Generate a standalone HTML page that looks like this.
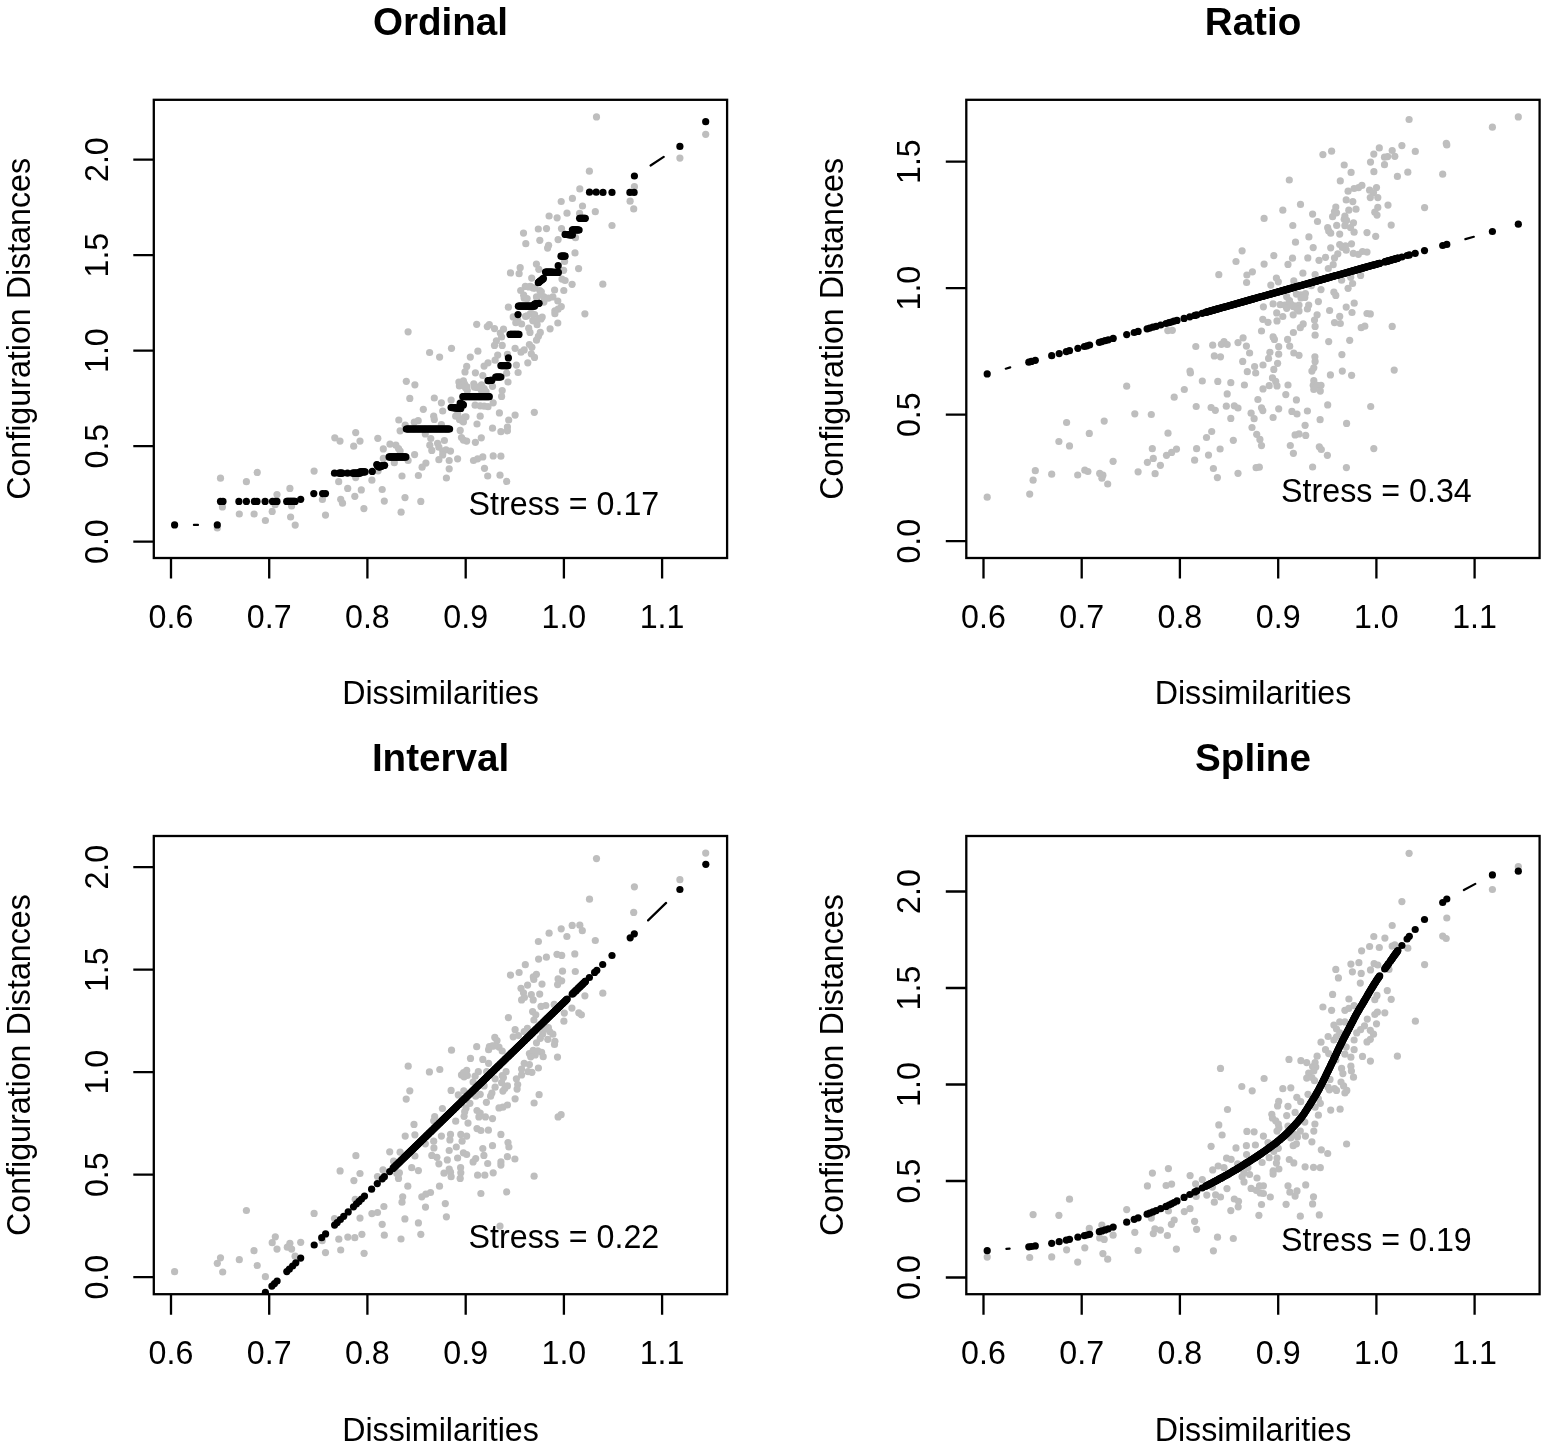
<!DOCTYPE html>
<html lang="en">
<head>
<meta charset="utf-8">
<title>Shepard diagrams</title>
<style>
html,body{margin:0;padding:0;background:#fff;}
body{width:1547px;height:1448px;overflow:hidden;}
svg{display:block;}
text{font-family:"Liberation Sans",sans-serif;fill:#000;}
.t{font-size:32.2px;}
.h{font-size:38.6px;font-weight:bold;}
.ax{stroke:#000;stroke-width:2.3;fill:none;stroke-linecap:butt;}
.g{fill:#bebebe;}
.k{fill:#000;}
.ln{stroke:#000;stroke-width:2.2;fill:none;stroke-linecap:round;}
</style>
</head>
<body>
<svg width="1547" height="1448" viewBox="0 0 1547 1448">
<rect x="0" y="0" width="1547" height="1448" fill="#fff"/>
<g transform="translate(0.0,0.0)">
<clipPath id="c0"><rect x="153.8" y="99.8" width="573.3" height="458.2"/></clipPath>
<text class="h" transform="translate(440.5,35.0) scale(1,1.02)" text-anchor="middle">Ordinal</text>
<g clip-path="url(#c0)">
<g class="g"><circle cx="579.8" cy="188.9" r="3.6"/><circle cx="572.4" cy="198.4" r="3.6"/><circle cx="561.2" cy="201.5" r="3.6"/><circle cx="582.5" cy="206.0" r="3.6"/><circle cx="595.3" cy="211.7" r="3.6"/><circle cx="567.0" cy="213.2" r="3.6"/><circle cx="579.6" cy="213.4" r="3.6"/><circle cx="549.1" cy="216.0" r="3.6"/><circle cx="557.1" cy="217.8" r="3.6"/><circle cx="538.3" cy="229.0" r="3.6"/><circle cx="546.5" cy="228.6" r="3.6"/><circle cx="561.5" cy="228.6" r="3.6"/><circle cx="523.5" cy="233.1" r="3.6"/><circle cx="575.5" cy="237.7" r="3.6"/><circle cx="558.1" cy="239.6" r="3.6"/><circle cx="539.8" cy="240.3" r="3.6"/><circle cx="525.8" cy="243.7" r="3.6"/><circle cx="548.6" cy="245.3" r="3.6"/><circle cx="547.6" cy="248.1" r="3.6"/><circle cx="575.0" cy="252.9" r="3.6"/><circle cx="564.6" cy="261.5" r="3.6"/><circle cx="536.4" cy="264.1" r="3.6"/><circle cx="538.8" cy="269.3" r="3.6"/><circle cx="520.2" cy="267.7" r="3.6"/><circle cx="563.6" cy="270.3" r="3.6"/><circle cx="578.6" cy="268.6" r="3.6"/><circle cx="510.5" cy="272.9" r="3.6"/><circle cx="519.1" cy="273.7" r="3.6"/><circle cx="531.7" cy="278.1" r="3.6"/><circle cx="562.0" cy="279.1" r="3.6"/><circle cx="565.1" cy="280.5" r="3.6"/><circle cx="572.1" cy="284.3" r="3.6"/><circle cx="525.3" cy="286.4" r="3.6"/><circle cx="520.7" cy="290.5" r="3.6"/><circle cx="528.9" cy="286.9" r="3.6"/><circle cx="533.1" cy="287.9" r="3.6"/><circle cx="554.6" cy="290.0" r="3.6"/><circle cx="563.8" cy="290.5" r="3.6"/><circle cx="539.8" cy="290.5" r="3.6"/><circle cx="540.8" cy="294.1" r="3.6"/><circle cx="596.5" cy="116.9" r="3.6"/><circle cx="705.7" cy="134.3" r="3.6"/><circle cx="679.9" cy="158.1" r="3.6"/><circle cx="589.4" cy="171.2" r="3.6"/><circle cx="634.4" cy="186.7" r="3.6"/><circle cx="630.1" cy="201.2" r="3.6"/><circle cx="633.7" cy="208.9" r="3.6"/><circle cx="612.0" cy="225.5" r="3.6"/><circle cx="602.8" cy="284.2" r="3.6"/><circle cx="543.9" cy="296.9" r="3.6"/><circle cx="548.4" cy="298.2" r="3.6"/><circle cx="552.9" cy="296.9" r="3.6"/><circle cx="543.9" cy="302.1" r="3.6"/><circle cx="557.8" cy="301.0" r="3.6"/><circle cx="561.3" cy="306.6" r="3.6"/><circle cx="558.1" cy="309.2" r="3.6"/><circle cx="554.9" cy="310.8" r="3.6"/><circle cx="554.9" cy="313.7" r="3.6"/><circle cx="584.9" cy="313.8" r="3.6"/><circle cx="557.8" cy="323.0" r="3.6"/><circle cx="550.1" cy="328.8" r="3.6"/><circle cx="408.1" cy="331.8" r="3.6"/><circle cx="429.6" cy="352.5" r="3.6"/><circle cx="439.6" cy="357.1" r="3.6"/><circle cx="451.5" cy="348.3" r="3.6"/><circle cx="406.3" cy="381.3" r="3.6"/><circle cx="414.9" cy="384.8" r="3.6"/><circle cx="476.7" cy="324.3" r="3.6"/><circle cx="477.9" cy="351.2" r="3.6"/><circle cx="470.3" cy="357.1" r="3.6"/><circle cx="489.3" cy="324.7" r="3.6"/><circle cx="487.3" cy="326.6" r="3.6"/><circle cx="494.5" cy="328.6" r="3.6"/><circle cx="503.5" cy="329.2" r="3.6"/><circle cx="500.3" cy="333.1" r="3.6"/><circle cx="501.6" cy="337.0" r="3.6"/><circle cx="496.4" cy="340.8" r="3.6"/><circle cx="494.5" cy="345.4" r="3.6"/><circle cx="502.2" cy="345.4" r="3.6"/><circle cx="497.7" cy="355.1" r="3.6"/><circle cx="495.1" cy="360.2" r="3.6"/><circle cx="488.0" cy="362.8" r="3.6"/><circle cx="484.1" cy="366.1" r="3.6"/><circle cx="466.7" cy="366.4" r="3.6"/><circle cx="465.0" cy="371.9" r="3.6"/><circle cx="475.4" cy="372.8" r="3.6"/><circle cx="482.8" cy="375.5" r="3.6"/><circle cx="458.9" cy="382.0" r="3.6"/><circle cx="463.4" cy="380.9" r="3.6"/><circle cx="462.1" cy="384.8" r="3.6"/><circle cx="465.4" cy="387.4" r="3.6"/><circle cx="467.3" cy="390.6" r="3.6"/><circle cx="473.8" cy="383.8" r="3.6"/><circle cx="477.0" cy="387.4" r="3.6"/><circle cx="481.5" cy="384.8" r="3.6"/><circle cx="484.1" cy="388.7" r="3.6"/><circle cx="486.1" cy="391.9" r="3.6"/><circle cx="492.5" cy="386.3" r="3.6"/><circle cx="502.2" cy="390.6" r="3.6"/><circle cx="508.0" cy="382.0" r="3.6"/><circle cx="506.7" cy="373.2" r="3.6"/><circle cx="518.1" cy="372.5" r="3.6"/><circle cx="516.4" cy="365.1" r="3.6"/><circle cx="527.8" cy="362.8" r="3.6"/><circle cx="507.4" cy="354.4" r="3.6"/><circle cx="515.1" cy="348.3" r="3.6"/><circle cx="521.0" cy="352.2" r="3.6"/><circle cx="524.2" cy="349.9" r="3.6"/><circle cx="529.4" cy="344.5" r="3.6"/><circle cx="531.9" cy="347.3" r="3.6"/><circle cx="531.3" cy="353.8" r="3.6"/><circle cx="534.5" cy="357.4" r="3.6"/><circle cx="508.4" cy="307.2" r="3.6"/><circle cx="513.2" cy="316.9" r="3.6"/><circle cx="515.8" cy="322.7" r="3.6"/><circle cx="521.6" cy="324.0" r="3.6"/><circle cx="525.5" cy="316.3" r="3.6"/><circle cx="531.9" cy="313.7" r="3.6"/><circle cx="533.2" cy="320.8" r="3.6"/><circle cx="537.1" cy="324.7" r="3.6"/><circle cx="541.0" cy="318.9" r="3.6"/><circle cx="528.7" cy="328.2" r="3.6"/><circle cx="530.0" cy="332.4" r="3.6"/><circle cx="540.3" cy="332.4" r="3.6"/><circle cx="538.4" cy="336.3" r="3.6"/><circle cx="536.5" cy="340.2" r="3.6"/><circle cx="536.5" cy="296.9" r="3.6"/><circle cx="524.2" cy="298.2" r="3.6"/><circle cx="423.3" cy="409.3" r="3.6"/><circle cx="442.7" cy="411.0" r="3.6"/><circle cx="433.7" cy="416.2" r="3.6"/><circle cx="434.3" cy="419.4" r="3.6"/><circle cx="398.8" cy="420.0" r="3.6"/><circle cx="418.2" cy="420.7" r="3.6"/><circle cx="414.3" cy="422.2" r="3.6"/><circle cx="405.2" cy="425.2" r="3.6"/><circle cx="400.1" cy="430.8" r="3.6"/><circle cx="441.4" cy="424.6" r="3.6"/><circle cx="425.3" cy="433.9" r="3.6"/><circle cx="430.8" cy="438.5" r="3.6"/><circle cx="377.8" cy="438.3" r="3.6"/><circle cx="390.0" cy="444.2" r="3.6"/><circle cx="395.9" cy="445.2" r="3.6"/><circle cx="398.5" cy="448.5" r="3.6"/><circle cx="383.3" cy="448.9" r="3.6"/><circle cx="400.1" cy="451.1" r="3.6"/><circle cx="429.8" cy="445.2" r="3.6"/><circle cx="431.8" cy="450.4" r="3.6"/><circle cx="437.6" cy="443.3" r="3.6"/><circle cx="438.9" cy="447.2" r="3.6"/><circle cx="444.4" cy="440.5" r="3.6"/><circle cx="442.7" cy="451.1" r="3.6"/><circle cx="446.0" cy="449.8" r="3.6"/><circle cx="450.5" cy="451.1" r="3.6"/><circle cx="442.7" cy="454.9" r="3.6"/><circle cx="414.6" cy="454.6" r="3.6"/><circle cx="383.3" cy="458.4" r="3.6"/><circle cx="394.3" cy="462.7" r="3.6"/><circle cx="408.1" cy="460.5" r="3.6"/><circle cx="438.9" cy="459.7" r="3.6"/><circle cx="449.2" cy="460.5" r="3.6"/><circle cx="457.6" cy="458.8" r="3.6"/><circle cx="425.9" cy="463.1" r="3.6"/><circle cx="422.1" cy="467.2" r="3.6"/><circle cx="449.2" cy="468.8" r="3.6"/><circle cx="378.1" cy="470.8" r="3.6"/><circle cx="402.0" cy="476.0" r="3.6"/><circle cx="418.4" cy="475.5" r="3.6"/><circle cx="446.4" cy="478.0" r="3.6"/><circle cx="371.9" cy="480.2" r="3.6"/><circle cx="382.2" cy="489.5" r="3.6"/><circle cx="405.0" cy="497.6" r="3.6"/><circle cx="384.3" cy="501.1" r="3.6"/><circle cx="420.8" cy="501.4" r="3.6"/><circle cx="363.9" cy="508.6" r="3.6"/><circle cx="401.1" cy="512.2" r="3.6"/><circle cx="475.1" cy="405.2" r="3.6"/><circle cx="480.2" cy="405.8" r="3.6"/><circle cx="484.1" cy="406.2" r="3.6"/><circle cx="488.0" cy="406.7" r="3.6"/><circle cx="499.4" cy="412.9" r="3.6"/><circle cx="534.3" cy="412.3" r="3.6"/><circle cx="515.1" cy="415.1" r="3.6"/><circle cx="480.2" cy="416.2" r="3.6"/><circle cx="455.7" cy="416.2" r="3.6"/><circle cx="459.5" cy="419.4" r="3.6"/><circle cx="463.4" cy="422.0" r="3.6"/><circle cx="466.0" cy="416.8" r="3.6"/><circle cx="508.7" cy="420.0" r="3.6"/><circle cx="477.0" cy="424.0" r="3.6"/><circle cx="507.4" cy="427.1" r="3.6"/><circle cx="492.5" cy="428.2" r="3.6"/><circle cx="500.9" cy="431.7" r="3.6"/><circle cx="507.4" cy="430.8" r="3.6"/><circle cx="460.2" cy="430.4" r="3.6"/><circle cx="461.5" cy="437.5" r="3.6"/><circle cx="463.4" cy="440.1" r="3.6"/><circle cx="466.7" cy="441.1" r="3.6"/><circle cx="481.3" cy="437.8" r="3.6"/><circle cx="475.4" cy="442.3" r="3.6"/><circle cx="493.2" cy="455.9" r="3.6"/><circle cx="500.9" cy="456.2" r="3.6"/><circle cx="482.8" cy="456.9" r="3.6"/><circle cx="477.6" cy="458.8" r="3.6"/><circle cx="473.5" cy="460.5" r="3.6"/><circle cx="484.5" cy="468.3" r="3.6"/><circle cx="487.7" cy="476.0" r="3.6"/><circle cx="500.0" cy="475.2" r="3.6"/><circle cx="506.7" cy="481.4" r="3.6"/><circle cx="220.5" cy="478.2" r="3.6"/><circle cx="222.4" cy="507.0" r="3.6"/><circle cx="217.3" cy="528.0" r="3.6"/><circle cx="246.4" cy="481.7" r="3.6"/><circle cx="257.2" cy="472.4" r="3.6"/><circle cx="239.3" cy="514.0" r="3.6"/><circle cx="254.1" cy="514.0" r="3.6"/><circle cx="265.4" cy="520.5" r="3.6"/><circle cx="272.2" cy="511.4" r="3.6"/><circle cx="277.0" cy="494.6" r="3.6"/><circle cx="275.1" cy="504.7" r="3.6"/><circle cx="289.9" cy="488.4" r="3.6"/><circle cx="291.6" cy="506.0" r="3.6"/><circle cx="290.6" cy="517.0" r="3.6"/><circle cx="295.2" cy="525.1" r="3.6"/><circle cx="314.1" cy="471.1" r="3.6"/><circle cx="322.4" cy="499.5" r="3.6"/><circle cx="325.5" cy="515.1" r="3.6"/><circle cx="334.8" cy="437.8" r="3.6"/><circle cx="340.0" cy="441.1" r="3.6"/><circle cx="355.7" cy="432.6" r="3.6"/><circle cx="353.7" cy="446.2" r="3.6"/><circle cx="338.7" cy="481.7" r="3.6"/><circle cx="347.7" cy="488.4" r="3.6"/><circle cx="355.7" cy="477.6" r="3.6"/><circle cx="340.7" cy="499.3" r="3.6"/><circle cx="342.5" cy="503.2" r="3.6"/><circle cx="354.8" cy="496.3" r="3.6"/><circle cx="409.8" cy="398.4" r="3.6"/><circle cx="434.3" cy="398.0" r="3.6"/><circle cx="451.1" cy="400.1" r="3.6"/><circle cx="501.6" cy="396.4" r="3.6"/><circle cx="441.4" cy="402.8" r="3.6"/><circle cx="360.0" cy="441.1" r="3.6"/><circle cx="361.3" cy="489.9" r="3.6"/><circle cx="493.2" cy="402.8" r="3.6"/><circle cx="530.4" cy="286.4" r="3.6"/><circle cx="534.6" cy="288.1" r="3.6"/><circle cx="541.3" cy="291.8" r="3.6"/><circle cx="523.7" cy="295.2" r="3.6"/><circle cx="527.1" cy="298.6" r="3.6"/><circle cx="537.1" cy="297.7" r="3.6"/><circle cx="527.1" cy="315.8" r="3.6"/><circle cx="530.4" cy="313.7" r="3.6"/><circle cx="534.6" cy="314.5" r="3.6"/><circle cx="517.8" cy="320.4" r="3.6"/><circle cx="532.9" cy="320.4" r="3.6"/><circle cx="538.8" cy="318.7" r="3.6"/><circle cx="542.2" cy="317.1" r="3.6"/><circle cx="459.4" cy="386.0" r="3.6"/><circle cx="464.5" cy="383.9" r="3.6"/><circle cx="467.0" cy="386.8" r="3.6"/><circle cx="478.7" cy="387.2" r="3.6"/><circle cx="481.3" cy="390.2" r="3.6"/><circle cx="485.0" cy="391.0" r="3.6"/><circle cx="474.5" cy="387.2" r="3.6"/><circle cx="457.7" cy="414.1" r="3.6"/><circle cx="464.5" cy="417.1" r="3.6"/><circle cx="461.9" cy="420.4" r="3.6"/></g>
<path class="ln" d="M193.9 524.9L198.0 524.9M650.6 165.5L663.7 156.9"/>
<g class="k"><circle cx="589.5" cy="192.2" r="3.6"/><circle cx="596.2" cy="192.2" r="3.6"/><circle cx="558.2" cy="265.7" r="3.6"/><circle cx="579.6" cy="218.3" r="3.6"/><circle cx="580.4" cy="218.3" r="3.6"/><circle cx="581.3" cy="218.3" r="3.6"/><circle cx="582.1" cy="218.3" r="3.6"/><circle cx="582.9" cy="218.3" r="3.6"/><circle cx="583.7" cy="218.3" r="3.6"/><circle cx="584.5" cy="218.3" r="3.6"/><circle cx="585.3" cy="218.3" r="3.6"/><circle cx="572.4" cy="229.8" r="3.6"/><circle cx="573.2" cy="229.8" r="3.6"/><circle cx="574.1" cy="229.8" r="3.6"/><circle cx="574.9" cy="229.9" r="3.6"/><circle cx="575.7" cy="229.9" r="3.6"/><circle cx="576.6" cy="229.9" r="3.6"/><circle cx="577.4" cy="229.9" r="3.6"/><circle cx="578.3" cy="230.0" r="3.6"/><circle cx="579.1" cy="230.0" r="3.6"/><circle cx="565.1" cy="234.4" r="3.6"/><circle cx="565.9" cy="234.5" r="3.6"/><circle cx="566.8" cy="234.5" r="3.6"/><circle cx="567.6" cy="234.6" r="3.6"/><circle cx="568.4" cy="234.7" r="3.6"/><circle cx="569.2" cy="234.7" r="3.6"/><circle cx="570.0" cy="234.8" r="3.6"/><circle cx="570.8" cy="234.8" r="3.6"/><circle cx="571.6" cy="234.9" r="3.6"/><circle cx="572.4" cy="235.0" r="3.6"/><circle cx="561.0" cy="256.2" r="3.6"/><circle cx="561.8" cy="256.2" r="3.6"/><circle cx="562.7" cy="256.2" r="3.6"/><circle cx="563.5" cy="256.2" r="3.6"/><circle cx="564.3" cy="256.2" r="3.6"/><circle cx="565.1" cy="256.2" r="3.6"/><circle cx="545.5" cy="272.1" r="3.6"/><circle cx="546.4" cy="272.1" r="3.6"/><circle cx="547.2" cy="272.1" r="3.6"/><circle cx="548.1" cy="272.1" r="3.6"/><circle cx="548.9" cy="272.2" r="3.6"/><circle cx="549.8" cy="272.2" r="3.6"/><circle cx="550.7" cy="272.2" r="3.6"/><circle cx="551.5" cy="272.2" r="3.6"/><circle cx="552.4" cy="272.2" r="3.6"/><circle cx="553.3" cy="272.3" r="3.6"/><circle cx="554.1" cy="272.3" r="3.6"/><circle cx="555.0" cy="272.3" r="3.6"/><circle cx="555.8" cy="272.3" r="3.6"/><circle cx="556.7" cy="272.4" r="3.6"/><circle cx="557.6" cy="272.4" r="3.6"/><circle cx="558.4" cy="272.4" r="3.6"/><circle cx="538.3" cy="282.7" r="3.6"/><circle cx="538.9" cy="282.2" r="3.6"/><circle cx="539.5" cy="281.6" r="3.6"/><circle cx="540.2" cy="281.1" r="3.6"/><circle cx="540.8" cy="280.6" r="3.6"/><circle cx="541.5" cy="280.0" r="3.6"/><circle cx="542.1" cy="279.5" r="3.6"/><circle cx="542.8" cy="278.9" r="3.6"/><circle cx="543.4" cy="278.4" r="3.6"/><circle cx="705.7" cy="121.7" r="3.6"/><circle cx="679.9" cy="146.4" r="3.6"/><circle cx="634.4" cy="176.0" r="3.6"/><circle cx="629.9" cy="192.4" r="3.6"/><circle cx="634.1" cy="192.4" r="3.6"/><circle cx="612.0" cy="192.4" r="3.6"/><circle cx="603.0" cy="192.4" r="3.6"/><circle cx="508.4" cy="357.9" r="3.6"/><circle cx="518.0" cy="314.6" r="3.6"/><circle cx="462.8" cy="396.7" r="3.6"/><circle cx="463.7" cy="396.7" r="3.6"/><circle cx="464.5" cy="396.7" r="3.6"/><circle cx="465.4" cy="396.7" r="3.6"/><circle cx="466.3" cy="396.7" r="3.6"/><circle cx="467.2" cy="396.7" r="3.6"/><circle cx="468.1" cy="396.7" r="3.6"/><circle cx="469.0" cy="396.7" r="3.6"/><circle cx="469.8" cy="396.7" r="3.6"/><circle cx="470.7" cy="396.7" r="3.6"/><circle cx="471.6" cy="396.7" r="3.6"/><circle cx="472.5" cy="396.7" r="3.6"/><circle cx="473.4" cy="396.7" r="3.6"/><circle cx="474.3" cy="396.7" r="3.6"/><circle cx="475.1" cy="396.7" r="3.6"/><circle cx="476.0" cy="396.7" r="3.6"/><circle cx="476.9" cy="396.7" r="3.6"/><circle cx="477.8" cy="396.7" r="3.6"/><circle cx="478.7" cy="396.7" r="3.6"/><circle cx="479.6" cy="396.7" r="3.6"/><circle cx="480.4" cy="396.7" r="3.6"/><circle cx="481.3" cy="396.7" r="3.6"/><circle cx="482.2" cy="396.7" r="3.6"/><circle cx="483.1" cy="396.7" r="3.6"/><circle cx="484.0" cy="396.7" r="3.6"/><circle cx="484.9" cy="396.7" r="3.6"/><circle cx="485.7" cy="396.7" r="3.6"/><circle cx="486.6" cy="396.7" r="3.6"/><circle cx="487.5" cy="396.7" r="3.6"/><circle cx="488.4" cy="396.7" r="3.6"/><circle cx="489.3" cy="396.7" r="3.6"/><circle cx="488.0" cy="380.7" r="3.6"/><circle cx="488.8" cy="380.6" r="3.6"/><circle cx="489.5" cy="380.5" r="3.6"/><circle cx="490.3" cy="380.4" r="3.6"/><circle cx="491.1" cy="380.3" r="3.6"/><circle cx="491.9" cy="380.3" r="3.6"/><circle cx="495.7" cy="377.0" r="3.6"/><circle cx="496.6" cy="377.0" r="3.6"/><circle cx="497.5" cy="377.0" r="3.6"/><circle cx="498.3" cy="377.0" r="3.6"/><circle cx="499.2" cy="377.0" r="3.6"/><circle cx="500.1" cy="377.0" r="3.6"/><circle cx="500.9" cy="377.0" r="3.6"/><circle cx="500.9" cy="365.7" r="3.6"/><circle cx="501.8" cy="365.7" r="3.6"/><circle cx="502.7" cy="365.7" r="3.6"/><circle cx="503.6" cy="365.7" r="3.6"/><circle cx="504.5" cy="365.7" r="3.6"/><circle cx="505.4" cy="365.7" r="3.6"/><circle cx="506.3" cy="365.7" r="3.6"/><circle cx="507.1" cy="365.7" r="3.6"/><circle cx="508.0" cy="365.7" r="3.6"/><circle cx="510.0" cy="334.4" r="3.6"/><circle cx="510.8" cy="334.4" r="3.6"/><circle cx="511.6" cy="334.4" r="3.6"/><circle cx="512.4" cy="334.4" r="3.6"/><circle cx="513.3" cy="334.4" r="3.6"/><circle cx="514.1" cy="334.4" r="3.6"/><circle cx="514.9" cy="334.4" r="3.6"/><circle cx="515.7" cy="334.4" r="3.6"/><circle cx="516.5" cy="334.4" r="3.6"/><circle cx="517.4" cy="334.4" r="3.6"/><circle cx="518.2" cy="334.4" r="3.6"/><circle cx="519.0" cy="334.4" r="3.6"/><circle cx="518.4" cy="306.2" r="3.6"/><circle cx="519.3" cy="306.2" r="3.6"/><circle cx="520.2" cy="306.2" r="3.6"/><circle cx="521.1" cy="306.2" r="3.6"/><circle cx="522.0" cy="306.2" r="3.6"/><circle cx="522.9" cy="306.2" r="3.6"/><circle cx="523.8" cy="306.2" r="3.6"/><circle cx="524.7" cy="306.2" r="3.6"/><circle cx="525.6" cy="306.2" r="3.6"/><circle cx="526.5" cy="306.2" r="3.6"/><circle cx="527.3" cy="306.2" r="3.6"/><circle cx="528.2" cy="306.2" r="3.6"/><circle cx="529.1" cy="306.2" r="3.6"/><circle cx="530.0" cy="306.2" r="3.6"/><circle cx="530.9" cy="306.2" r="3.6"/><circle cx="531.8" cy="306.2" r="3.6"/><circle cx="532.7" cy="306.2" r="3.6"/><circle cx="533.6" cy="306.2" r="3.6"/><circle cx="534.5" cy="306.2" r="3.6"/><circle cx="534.5" cy="304.0" r="3.6"/><circle cx="535.3" cy="303.9" r="3.6"/><circle cx="536.0" cy="303.8" r="3.6"/><circle cx="536.8" cy="303.7" r="3.6"/><circle cx="537.5" cy="303.6" r="3.6"/><circle cx="538.3" cy="303.5" r="3.6"/><circle cx="539.1" cy="303.3" r="3.6"/><circle cx="372.3" cy="471.4" r="3.6"/><circle cx="406.3" cy="429.0" r="3.6"/><circle cx="407.2" cy="429.0" r="3.6"/><circle cx="408.1" cy="429.0" r="3.6"/><circle cx="408.9" cy="429.0" r="3.6"/><circle cx="409.8" cy="429.0" r="3.6"/><circle cx="410.7" cy="429.0" r="3.6"/><circle cx="411.6" cy="429.0" r="3.6"/><circle cx="412.5" cy="429.0" r="3.6"/><circle cx="413.4" cy="429.0" r="3.6"/><circle cx="414.2" cy="429.0" r="3.6"/><circle cx="415.1" cy="429.0" r="3.6"/><circle cx="416.0" cy="429.0" r="3.6"/><circle cx="416.9" cy="429.0" r="3.6"/><circle cx="417.8" cy="429.0" r="3.6"/><circle cx="418.7" cy="429.0" r="3.6"/><circle cx="419.5" cy="429.0" r="3.6"/><circle cx="420.4" cy="429.0" r="3.6"/><circle cx="421.3" cy="429.0" r="3.6"/><circle cx="422.2" cy="429.0" r="3.6"/><circle cx="423.1" cy="429.0" r="3.6"/><circle cx="424.0" cy="429.0" r="3.6"/><circle cx="424.8" cy="429.0" r="3.6"/><circle cx="425.7" cy="429.0" r="3.6"/><circle cx="426.6" cy="429.0" r="3.6"/><circle cx="427.5" cy="429.0" r="3.6"/><circle cx="428.4" cy="429.0" r="3.6"/><circle cx="429.3" cy="429.0" r="3.6"/><circle cx="430.1" cy="429.0" r="3.6"/><circle cx="431.0" cy="429.0" r="3.6"/><circle cx="431.9" cy="429.0" r="3.6"/><circle cx="432.8" cy="429.0" r="3.6"/><circle cx="433.7" cy="429.0" r="3.6"/><circle cx="434.6" cy="429.0" r="3.6"/><circle cx="435.5" cy="429.0" r="3.6"/><circle cx="436.3" cy="429.0" r="3.6"/><circle cx="437.2" cy="429.0" r="3.6"/><circle cx="438.1" cy="429.0" r="3.6"/><circle cx="439.0" cy="429.0" r="3.6"/><circle cx="439.9" cy="429.0" r="3.6"/><circle cx="440.8" cy="429.0" r="3.6"/><circle cx="441.6" cy="429.0" r="3.6"/><circle cx="442.5" cy="429.0" r="3.6"/><circle cx="443.4" cy="429.0" r="3.6"/><circle cx="444.3" cy="429.0" r="3.6"/><circle cx="445.2" cy="429.0" r="3.6"/><circle cx="446.1" cy="429.0" r="3.6"/><circle cx="446.9" cy="429.0" r="3.6"/><circle cx="447.8" cy="429.0" r="3.6"/><circle cx="448.7" cy="429.0" r="3.6"/><circle cx="449.6" cy="429.0" r="3.6"/><circle cx="389.1" cy="456.9" r="3.6"/><circle cx="390.0" cy="456.9" r="3.6"/><circle cx="390.9" cy="456.9" r="3.6"/><circle cx="391.7" cy="456.9" r="3.6"/><circle cx="392.6" cy="456.9" r="3.6"/><circle cx="393.5" cy="456.9" r="3.6"/><circle cx="394.4" cy="456.9" r="3.6"/><circle cx="395.3" cy="456.9" r="3.6"/><circle cx="396.2" cy="456.9" r="3.6"/><circle cx="397.0" cy="456.9" r="3.6"/><circle cx="397.9" cy="456.9" r="3.6"/><circle cx="398.8" cy="456.9" r="3.6"/><circle cx="399.7" cy="456.9" r="3.6"/><circle cx="400.6" cy="456.9" r="3.6"/><circle cx="401.5" cy="456.9" r="3.6"/><circle cx="402.4" cy="456.9" r="3.6"/><circle cx="403.2" cy="456.9" r="3.6"/><circle cx="404.1" cy="456.9" r="3.6"/><circle cx="405.0" cy="456.9" r="3.6"/><circle cx="405.9" cy="456.9" r="3.6"/><circle cx="376.8" cy="464.6" r="3.6"/><circle cx="377.3" cy="465.2" r="3.6"/><circle cx="377.8" cy="465.7" r="3.6"/><circle cx="378.4" cy="466.2" r="3.6"/><circle cx="378.9" cy="466.7" r="3.6"/><circle cx="379.4" cy="467.2" r="3.6"/><circle cx="379.4" cy="466.6" r="3.6"/><circle cx="380.3" cy="466.4" r="3.6"/><circle cx="381.1" cy="466.1" r="3.6"/><circle cx="382.0" cy="465.9" r="3.6"/><circle cx="382.8" cy="465.7" r="3.6"/><circle cx="383.7" cy="465.5" r="3.6"/><circle cx="384.6" cy="465.3" r="3.6"/><circle cx="360.0" cy="471.8" r="3.6"/><circle cx="360.9" cy="471.8" r="3.6"/><circle cx="361.7" cy="471.8" r="3.6"/><circle cx="362.6" cy="471.8" r="3.6"/><circle cx="363.4" cy="471.8" r="3.6"/><circle cx="364.3" cy="471.8" r="3.6"/><circle cx="365.2" cy="471.8" r="3.6"/><circle cx="451.1" cy="407.5" r="3.6"/><circle cx="452.0" cy="407.6" r="3.6"/><circle cx="452.9" cy="407.7" r="3.6"/><circle cx="453.8" cy="407.7" r="3.6"/><circle cx="454.7" cy="407.8" r="3.6"/><circle cx="455.6" cy="407.9" r="3.6"/><circle cx="456.4" cy="408.0" r="3.6"/><circle cx="457.3" cy="408.1" r="3.6"/><circle cx="458.2" cy="408.2" r="3.6"/><circle cx="459.1" cy="408.2" r="3.6"/><circle cx="460.0" cy="408.3" r="3.6"/><circle cx="460.8" cy="408.4" r="3.6"/><circle cx="460.2" cy="403.2" r="3.6"/><circle cx="460.8" cy="403.6" r="3.6"/><circle cx="461.5" cy="403.9" r="3.6"/><circle cx="462.1" cy="404.2" r="3.6"/><circle cx="462.8" cy="404.6" r="3.6"/><circle cx="463.4" cy="404.9" r="3.6"/><circle cx="334.5" cy="473.2" r="3.6"/><circle cx="347.5" cy="473.2" r="3.6"/><circle cx="174.6" cy="524.9" r="3.6"/><circle cx="217.3" cy="524.9" r="3.6"/><circle cx="220.5" cy="501.4" r="3.6"/><circle cx="223.0" cy="501.4" r="3.6"/><circle cx="238.9" cy="501.4" r="3.6"/><circle cx="246.4" cy="501.4" r="3.6"/><circle cx="254.4" cy="501.4" r="3.6"/><circle cx="257.0" cy="501.4" r="3.6"/><circle cx="265.1" cy="501.4" r="3.6"/><circle cx="272.5" cy="501.4" r="3.6"/><circle cx="275.1" cy="501.4" r="3.6"/><circle cx="277.0" cy="501.4" r="3.6"/><circle cx="300.7" cy="499.3" r="3.6"/><circle cx="313.8" cy="493.6" r="3.6"/><circle cx="322.6" cy="493.6" r="3.6"/><circle cx="325.5" cy="493.6" r="3.6"/><circle cx="286.7" cy="501.4" r="3.6"/><circle cx="287.5" cy="501.4" r="3.6"/><circle cx="288.4" cy="501.4" r="3.6"/><circle cx="289.2" cy="501.4" r="3.6"/><circle cx="290.1" cy="501.4" r="3.6"/><circle cx="290.9" cy="501.4" r="3.6"/><circle cx="291.7" cy="501.4" r="3.6"/><circle cx="292.6" cy="501.4" r="3.6"/><circle cx="293.4" cy="501.4" r="3.6"/><circle cx="294.3" cy="501.4" r="3.6"/><circle cx="295.1" cy="501.4" r="3.6"/><circle cx="339.1" cy="473.2" r="3.6"/><circle cx="339.9" cy="473.2" r="3.6"/><circle cx="340.7" cy="473.2" r="3.6"/><circle cx="341.5" cy="473.2" r="3.6"/><circle cx="342.3" cy="473.2" r="3.6"/><circle cx="352.6" cy="473.2" r="3.6"/><circle cx="353.4" cy="473.2" r="3.6"/><circle cx="354.3" cy="473.2" r="3.6"/><circle cx="355.1" cy="473.2" r="3.6"/><circle cx="355.9" cy="473.2" r="3.6"/><circle cx="356.7" cy="473.2" r="3.6"/><circle cx="357.5" cy="473.2" r="3.6"/><circle cx="358.4" cy="473.2" r="3.6"/><circle cx="359.2" cy="473.2" r="3.6"/><circle cx="360.0" cy="473.2" r="3.6"/></g>
</g>
<text class="t" transform="translate(563.9,515.1) scale(1,1.06)" text-anchor="middle">Stress = 0.17</text>
<rect class="ax" x="153.8" y="99.8" width="573.3" height="458.2"/>
<path class="ax" d="M171.0 558.0v20.5M269.2 558.0v20.5M367.4 558.0v20.5M465.7 558.0v20.5M563.9 558.0v20.5M662.1 558.0v20.5"/>
<text class="t" transform="translate(171.0,628.0) scale(1,1.06)" text-anchor="middle">0.6</text>
<text class="t" transform="translate(269.2,628.0) scale(1,1.06)" text-anchor="middle">0.7</text>
<text class="t" transform="translate(367.4,628.0) scale(1,1.06)" text-anchor="middle">0.8</text>
<text class="t" transform="translate(465.7,628.0) scale(1,1.06)" text-anchor="middle">0.9</text>
<text class="t" transform="translate(563.9,628.0) scale(1,1.06)" text-anchor="middle">1.0</text>
<text class="t" transform="translate(662.1,628.0) scale(1,1.06)" text-anchor="middle">1.1</text>
<text class="t" transform="translate(440.5,704.3) scale(1,1.04)" text-anchor="middle">Dissimilarities</text>
<path class="ax" d="M153.8 541.6h-20.5M153.8 446.1h-20.5M153.8 350.6h-20.5M153.8 255.1h-20.5M153.8 159.6h-20.5"/>
<text class="t" transform="translate(107.6,541.6) rotate(-90) scale(1,1.06)" text-anchor="middle">0.0</text>
<text class="t" transform="translate(107.6,446.1) rotate(-90) scale(1,1.06)" text-anchor="middle">0.5</text>
<text class="t" transform="translate(107.6,350.6) rotate(-90) scale(1,1.06)" text-anchor="middle">1.0</text>
<text class="t" transform="translate(107.6,255.1) rotate(-90) scale(1,1.06)" text-anchor="middle">1.5</text>
<text class="t" transform="translate(107.6,159.6) rotate(-90) scale(1,1.06)" text-anchor="middle">2.0</text>
<text class="t" transform="translate(30.0,328.9) rotate(-90) scale(1,1.04)" text-anchor="middle">Configuration Distances</text>
</g>
<g transform="translate(812.5,0.0)">
<clipPath id="c1"><rect x="153.8" y="99.8" width="573.3" height="458.2"/></clipPath>
<text class="h" transform="translate(440.5,35.0) scale(1,1.02)" text-anchor="middle">Ratio</text>
<g clip-path="url(#c1)">
<g class="g"><circle cx="429.6" cy="250.8" r="3.6"/><circle cx="461.3" cy="255.6" r="3.6"/><circle cx="423.5" cy="261.5" r="3.6"/><circle cx="451.6" cy="264.1" r="3.6"/><circle cx="480.0" cy="258.2" r="3.6"/><circle cx="475.5" cy="264.4" r="3.6"/><circle cx="495.3" cy="257.9" r="3.6"/><circle cx="506.5" cy="260.3" r="3.6"/><circle cx="513.0" cy="257.3" r="3.6"/><circle cx="525.3" cy="253.8" r="3.6"/><circle cx="522.0" cy="257.9" r="3.6"/><circle cx="520.7" cy="264.7" r="3.6"/><circle cx="515.8" cy="268.5" r="3.6"/><circle cx="533.7" cy="250.2" r="3.6"/><circle cx="540.8" cy="253.4" r="3.6"/><circle cx="406.3" cy="274.7" r="3.6"/><circle cx="434.4" cy="275.0" r="3.6"/><circle cx="439.9" cy="271.8" r="3.6"/><circle cx="434.1" cy="282.5" r="3.6"/><circle cx="463.9" cy="278.0" r="3.6"/><circle cx="465.8" cy="281.8" r="3.6"/><circle cx="458.3" cy="285.1" r="3.6"/><circle cx="490.4" cy="273.2" r="3.6"/><circle cx="502.6" cy="274.5" r="3.6"/><circle cx="481.3" cy="280.9" r="3.6"/><circle cx="508.5" cy="289.6" r="3.6"/><circle cx="529.1" cy="280.2" r="3.6"/><circle cx="538.2" cy="277.3" r="3.6"/><circle cx="540.1" cy="283.5" r="3.6"/><circle cx="535.6" cy="288.3" r="3.6"/><circle cx="521.4" cy="292.2" r="3.6"/><circle cx="523.3" cy="295.4" r="3.6"/><circle cx="498.8" cy="285.7" r="3.6"/><circle cx="483.9" cy="294.1" r="3.6"/><circle cx="488.4" cy="294.8" r="3.6"/><circle cx="492.9" cy="293.5" r="3.6"/><circle cx="492.3" cy="297.4" r="3.6"/><circle cx="474.2" cy="296.7" r="3.6"/><circle cx="476.8" cy="300.6" r="3.6"/><circle cx="460.6" cy="303.8" r="3.6"/><circle cx="467.7" cy="304.7" r="3.6"/><circle cx="450.9" cy="306.8" r="3.6"/><circle cx="472.3" cy="305.1" r="3.6"/><circle cx="478.1" cy="303.8" r="3.6"/><circle cx="482.0" cy="305.8" r="3.6"/><circle cx="474.2" cy="308.3" r="3.6"/><circle cx="486.5" cy="305.1" r="3.6"/><circle cx="484.5" cy="309.0" r="3.6"/><circle cx="486.5" cy="310.9" r="3.6"/><circle cx="496.2" cy="305.1" r="3.6"/><circle cx="494.9" cy="309.0" r="3.6"/><circle cx="505.9" cy="301.6" r="3.6"/><circle cx="480.7" cy="314.8" r="3.6"/><circle cx="464.2" cy="312.9" r="3.6"/><circle cx="470.3" cy="316.5" r="3.6"/><circle cx="464.5" cy="320.9" r="3.6"/><circle cx="450.3" cy="319.3" r="3.6"/><circle cx="455.5" cy="322.3" r="3.6"/><circle cx="504.6" cy="314.8" r="3.6"/><circle cx="502.0" cy="320.0" r="3.6"/><circle cx="502.6" cy="326.4" r="3.6"/><circle cx="517.1" cy="310.5" r="3.6"/><circle cx="533.7" cy="307.1" r="3.6"/><circle cx="541.7" cy="303.2" r="3.6"/><circle cx="539.5" cy="312.5" r="3.6"/><circle cx="527.2" cy="316.4" r="3.6"/><circle cx="522.0" cy="322.6" r="3.6"/><circle cx="527.8" cy="323.5" r="3.6"/><circle cx="490.7" cy="323.9" r="3.6"/><circle cx="487.8" cy="327.7" r="3.6"/><circle cx="480.9" cy="332.5" r="3.6"/><circle cx="449.0" cy="331.0" r="3.6"/><circle cx="355.3" cy="330.6" r="3.6"/><circle cx="359.8" cy="330.3" r="3.6"/><circle cx="430.6" cy="337.8" r="3.6"/><circle cx="425.5" cy="342.6" r="3.6"/><circle cx="411.5" cy="341.7" r="3.6"/><circle cx="408.9" cy="344.3" r="3.6"/><circle cx="414.7" cy="344.5" r="3.6"/><circle cx="400.2" cy="345.2" r="3.6"/><circle cx="383.3" cy="346.5" r="3.6"/><circle cx="433.9" cy="346.1" r="3.6"/><circle cx="437.1" cy="353.0" r="3.6"/><circle cx="401.8" cy="355.9" r="3.6"/><circle cx="408.0" cy="356.8" r="3.6"/><circle cx="430.2" cy="361.4" r="3.6"/><circle cx="460.6" cy="336.8" r="3.6"/><circle cx="461.9" cy="339.4" r="3.6"/><circle cx="475.1" cy="339.4" r="3.6"/><circle cx="477.2" cy="346.2" r="3.6"/><circle cx="466.2" cy="346.7" r="3.6"/><circle cx="457.4" cy="352.3" r="3.6"/><circle cx="466.2" cy="354.2" r="3.6"/><circle cx="456.1" cy="358.4" r="3.6"/><circle cx="481.3" cy="353.0" r="3.6"/><circle cx="486.5" cy="355.3" r="3.6"/><circle cx="502.6" cy="335.2" r="3.6"/><circle cx="516.2" cy="341.6" r="3.6"/><circle cx="537.2" cy="340.3" r="3.6"/><circle cx="529.4" cy="354.6" r="3.6"/><circle cx="502.4" cy="356.8" r="3.6"/><circle cx="502.6" cy="361.4" r="3.6"/><circle cx="501.3" cy="367.8" r="3.6"/><circle cx="499.4" cy="371.1" r="3.6"/><circle cx="465.1" cy="363.3" r="3.6"/><circle cx="450.5" cy="365.0" r="3.6"/><circle cx="461.3" cy="369.4" r="3.6"/><circle cx="442.1" cy="366.5" r="3.6"/><circle cx="443.2" cy="373.0" r="3.6"/><circle cx="434.8" cy="371.7" r="3.6"/><circle cx="377.5" cy="371.1" r="3.6"/><circle cx="377.9" cy="373.0" r="3.6"/><circle cx="517.9" cy="374.9" r="3.6"/><circle cx="529.8" cy="371.1" r="3.6"/><circle cx="539.1" cy="375.3" r="3.6"/><circle cx="389.8" cy="381.0" r="3.6"/><circle cx="405.3" cy="381.4" r="3.6"/><circle cx="418.3" cy="382.7" r="3.6"/><circle cx="431.9" cy="385.0" r="3.6"/><circle cx="460.0" cy="377.9" r="3.6"/><circle cx="463.2" cy="381.4" r="3.6"/><circle cx="464.5" cy="385.9" r="3.6"/><circle cx="456.7" cy="385.7" r="3.6"/><circle cx="450.5" cy="388.9" r="3.6"/><circle cx="475.5" cy="385.0" r="3.6"/><circle cx="501.3" cy="380.7" r="3.6"/><circle cx="500.7" cy="385.3" r="3.6"/><circle cx="504.6" cy="385.3" r="3.6"/><circle cx="508.5" cy="385.3" r="3.6"/><circle cx="501.3" cy="389.5" r="3.6"/><circle cx="507.8" cy="391.1" r="3.6"/><circle cx="371.8" cy="389.5" r="3.6"/><circle cx="414.7" cy="393.9" r="3.6"/><circle cx="473.3" cy="394.6" r="3.6"/><circle cx="361.7" cy="397.2" r="3.6"/><circle cx="445.4" cy="399.5" r="3.6"/><circle cx="483.9" cy="399.9" r="3.6"/><circle cx="545.9" cy="254.3" r="3.6"/><circle cx="550.0" cy="251.5" r="3.6"/><circle cx="554.5" cy="252.1" r="3.6"/><circle cx="548.1" cy="275.4" r="3.6"/><circle cx="554.5" cy="313.5" r="3.6"/><circle cx="557.8" cy="313.9" r="3.6"/><circle cx="548.7" cy="327.7" r="3.6"/><circle cx="552.3" cy="326.2" r="3.6"/><circle cx="579.7" cy="326.4" r="3.6"/><circle cx="581.7" cy="370.1" r="3.6"/><circle cx="596.6" cy="119.5" r="3.6"/><circle cx="705.8" cy="116.9" r="3.6"/><circle cx="679.9" cy="127.2" r="3.6"/><circle cx="633.8" cy="143.4" r="3.6"/><circle cx="634.3" cy="144.9" r="3.6"/><circle cx="589.4" cy="145.6" r="3.6"/><circle cx="566.8" cy="147.9" r="3.6"/><circle cx="579.7" cy="150.5" r="3.6"/><circle cx="602.8" cy="151.4" r="3.6"/><circle cx="561.3" cy="154.1" r="3.6"/><circle cx="582.3" cy="156.3" r="3.6"/><circle cx="572.0" cy="157.2" r="3.6"/><circle cx="575.2" cy="156.6" r="3.6"/><circle cx="558.0" cy="162.1" r="3.6"/><circle cx="572.0" cy="164.7" r="3.6"/><circle cx="538.6" cy="172.4" r="3.6"/><circle cx="561.4" cy="171.7" r="3.6"/><circle cx="595.3" cy="172.2" r="3.6"/><circle cx="630.2" cy="174.2" r="3.6"/><circle cx="584.9" cy="176.4" r="3.6"/><circle cx="549.4" cy="185.4" r="3.6"/><circle cx="546.1" cy="187.6" r="3.6"/><circle cx="541.6" cy="188.5" r="3.6"/><circle cx="564.0" cy="187.6" r="3.6"/><circle cx="557.1" cy="190.2" r="3.6"/><circle cx="561.0" cy="192.8" r="3.6"/><circle cx="557.8" cy="197.6" r="3.6"/><circle cx="565.3" cy="197.6" r="3.6"/><circle cx="540.3" cy="201.6" r="3.6"/><circle cx="575.5" cy="205.1" r="3.6"/><circle cx="612.1" cy="207.6" r="3.6"/><circle cx="565.3" cy="207.4" r="3.6"/><circle cx="543.5" cy="209.2" r="3.6"/><circle cx="562.3" cy="212.2" r="3.6"/><circle cx="564.5" cy="215.1" r="3.6"/><circle cx="541.0" cy="222.8" r="3.6"/><circle cx="578.7" cy="225.1" r="3.6"/><circle cx="541.6" cy="232.2" r="3.6"/><circle cx="554.5" cy="232.6" r="3.6"/><circle cx="563.2" cy="236.3" r="3.6"/><circle cx="539.0" cy="243.8" r="3.6"/><circle cx="519.1" cy="151.2" r="3.6"/><circle cx="510.4" cy="154.6" r="3.6"/><circle cx="531.7" cy="165.0" r="3.6"/><circle cx="476.8" cy="180.0" r="3.6"/><circle cx="527.8" cy="180.9" r="3.6"/><circle cx="535.6" cy="191.2" r="3.6"/><circle cx="533.7" cy="199.9" r="3.6"/><circle cx="488.0" cy="204.4" r="3.6"/><circle cx="523.3" cy="207.0" r="3.6"/><circle cx="470.3" cy="210.2" r="3.6"/><circle cx="522.0" cy="211.5" r="3.6"/><circle cx="524.0" cy="212.8" r="3.6"/><circle cx="520.1" cy="216.7" r="3.6"/><circle cx="536.3" cy="210.2" r="3.6"/><circle cx="500.1" cy="214.1" r="3.6"/><circle cx="451.6" cy="218.4" r="3.6"/><circle cx="532.4" cy="216.1" r="3.6"/><circle cx="531.7" cy="219.3" r="3.6"/><circle cx="505.0" cy="221.5" r="3.6"/><circle cx="480.3" cy="225.5" r="3.6"/><circle cx="524.2" cy="225.4" r="3.6"/><circle cx="532.4" cy="225.7" r="3.6"/><circle cx="515.2" cy="227.7" r="3.6"/><circle cx="516.2" cy="230.9" r="3.6"/><circle cx="518.2" cy="233.2" r="3.6"/><circle cx="527.2" cy="234.1" r="3.6"/><circle cx="496.4" cy="236.9" r="3.6"/><circle cx="483.0" cy="242.2" r="3.6"/><circle cx="527.2" cy="244.5" r="3.6"/><circle cx="533.0" cy="245.8" r="3.6"/><circle cx="314.2" cy="386.2" r="3.6"/><circle cx="383.7" cy="406.5" r="3.6"/><circle cx="398.6" cy="407.5" r="3.6"/><circle cx="402.8" cy="410.3" r="3.6"/><circle cx="413.8" cy="406.2" r="3.6"/><circle cx="421.8" cy="405.8" r="3.6"/><circle cx="425.5" cy="408.0" r="3.6"/><circle cx="449.0" cy="407.8" r="3.6"/><circle cx="450.3" cy="410.6" r="3.6"/><circle cx="466.2" cy="408.8" r="3.6"/><circle cx="515.2" cy="404.9" r="3.6"/><circle cx="479.4" cy="411.4" r="3.6"/><circle cx="484.5" cy="414.0" r="3.6"/><circle cx="494.9" cy="411.0" r="3.6"/><circle cx="438.6" cy="413.2" r="3.6"/><circle cx="441.6" cy="418.7" r="3.6"/><circle cx="418.3" cy="418.4" r="3.6"/><circle cx="460.6" cy="417.5" r="3.6"/><circle cx="507.6" cy="419.7" r="3.6"/><circle cx="534.1" cy="423.4" r="3.6"/><circle cx="492.6" cy="425.3" r="3.6"/><circle cx="439.5" cy="427.5" r="3.6"/><circle cx="355.5" cy="433.2" r="3.6"/><circle cx="399.2" cy="431.5" r="3.6"/><circle cx="444.2" cy="434.3" r="3.6"/><circle cx="482.6" cy="434.9" r="3.6"/><circle cx="486.5" cy="433.9" r="3.6"/><circle cx="493.2" cy="435.4" r="3.6"/><circle cx="394.0" cy="437.5" r="3.6"/><circle cx="447.4" cy="439.4" r="3.6"/><circle cx="420.8" cy="440.3" r="3.6"/><circle cx="449.0" cy="445.6" r="3.6"/><circle cx="477.8" cy="445.5" r="3.6"/><circle cx="506.8" cy="446.8" r="3.6"/><circle cx="508.8" cy="449.5" r="3.6"/><circle cx="364.0" cy="449.1" r="3.6"/><circle cx="384.1" cy="448.7" r="3.6"/><circle cx="407.6" cy="449.0" r="3.6"/><circle cx="359.1" cy="452.4" r="3.6"/><circle cx="354.0" cy="455.3" r="3.6"/><circle cx="396.0" cy="455.1" r="3.6"/><circle cx="480.9" cy="453.3" r="3.6"/><circle cx="514.9" cy="455.3" r="3.6"/><circle cx="382.1" cy="460.2" r="3.6"/><circle cx="400.9" cy="468.5" r="3.6"/><circle cx="443.6" cy="467.7" r="3.6"/><circle cx="446.8" cy="467.2" r="3.6"/><circle cx="500.1" cy="467.0" r="3.6"/><circle cx="533.9" cy="467.6" r="3.6"/><circle cx="425.5" cy="473.3" r="3.6"/><circle cx="404.9" cy="477.6" r="3.6"/><circle cx="558.2" cy="406.5" r="3.6"/><circle cx="561.3" cy="448.6" r="3.6"/><circle cx="174.7" cy="497.2" r="3.6"/><circle cx="217.2" cy="494.1" r="3.6"/><circle cx="220.6" cy="480.2" r="3.6"/><circle cx="222.8" cy="470.7" r="3.6"/><circle cx="239.2" cy="474.2" r="3.6"/><circle cx="246.4" cy="441.5" r="3.6"/><circle cx="254.1" cy="422.5" r="3.6"/><circle cx="257.0" cy="445.9" r="3.6"/><circle cx="265.2" cy="475.0" r="3.6"/><circle cx="272.3" cy="470.2" r="3.6"/><circle cx="275.4" cy="471.5" r="3.6"/><circle cx="276.8" cy="433.4" r="3.6"/><circle cx="287.2" cy="473.4" r="3.6"/><circle cx="290.4" cy="475.2" r="3.6"/><circle cx="289.4" cy="478.2" r="3.6"/><circle cx="291.7" cy="421.1" r="3.6"/><circle cx="295.2" cy="484.0" r="3.6"/><circle cx="300.6" cy="461.3" r="3.6"/><circle cx="322.3" cy="413.8" r="3.6"/><circle cx="325.6" cy="471.8" r="3.6"/><circle cx="334.9" cy="462.3" r="3.6"/><circle cx="338.8" cy="414.5" r="3.6"/><circle cx="339.8" cy="448.7" r="3.6"/><circle cx="340.8" cy="458.4" r="3.6"/><circle cx="342.6" cy="473.7" r="3.6"/><circle cx="347.9" cy="465.3" r="3.6"/><circle cx="500.7" cy="247.6" r="3.6"/><circle cx="518.2" cy="247.8" r="3.6"/><circle cx="534.1" cy="220.4" r="3.6"/><circle cx="538.0" cy="227.6" r="3.6"/><circle cx="529.8" cy="247.5" r="3.6"/><circle cx="476.9" cy="300.9" r="3.6"/><circle cx="480.8" cy="306.7" r="3.6"/><circle cx="488.5" cy="298.0" r="3.6"/></g>
<path class="ln" d="M193.3 368.7L197.7 367.4M652.9 239.1L661.3 236.8"/>
<g class="k"><circle cx="174.7" cy="373.9" r="3.6"/><circle cx="216.3" cy="362.2" r="3.6"/><circle cx="218.9" cy="361.4" r="3.6"/><circle cx="222.8" cy="360.3" r="3.6"/><circle cx="239.2" cy="355.7" r="3.6"/><circle cx="246.7" cy="353.6" r="3.6"/><circle cx="253.8" cy="351.6" r="3.6"/><circle cx="257.0" cy="350.7" r="3.6"/><circle cx="265.4" cy="348.3" r="3.6"/><circle cx="271.9" cy="346.5" r="3.6"/><circle cx="274.5" cy="345.8" r="3.6"/><circle cx="277.1" cy="345.0" r="3.6"/><circle cx="286.8" cy="342.3" r="3.6"/><circle cx="289.4" cy="341.6" r="3.6"/><circle cx="292.6" cy="340.7" r="3.6"/><circle cx="295.8" cy="339.8" r="3.6"/><circle cx="300.7" cy="338.4" r="3.6"/><circle cx="314.2" cy="334.6" r="3.6"/><circle cx="321.7" cy="332.5" r="3.6"/><circle cx="325.6" cy="331.4" r="3.6"/><circle cx="334.6" cy="328.8" r="3.6"/><circle cx="337.2" cy="328.1" r="3.6"/><circle cx="340.4" cy="327.2" r="3.6"/><circle cx="343.7" cy="326.3" r="3.6"/><circle cx="348.2" cy="325.0" r="3.6"/><circle cx="353.5" cy="323.5" r="3.6"/><circle cx="356.5" cy="322.7" r="3.6"/><circle cx="359.0" cy="322.0" r="3.6"/><circle cx="361.5" cy="321.2" r="3.6"/><circle cx="364.5" cy="320.4" r="3.6"/><circle cx="371.6" cy="318.4" r="3.6"/><circle cx="377.3" cy="316.8" r="3.6"/><circle cx="382.3" cy="315.4" r="3.6"/><circle cx="384.4" cy="314.8" r="3.6"/><circle cx="389.7" cy="313.3" r="3.6"/><circle cx="589.4" cy="257.0" r="3.6"/><circle cx="594.6" cy="255.5" r="3.6"/><circle cx="596.8" cy="254.9" r="3.6"/><circle cx="602.7" cy="253.3" r="3.6"/><circle cx="612.0" cy="250.6" r="3.6"/><circle cx="630.2" cy="245.5" r="3.6"/><circle cx="634.3" cy="244.4" r="3.6"/><circle cx="679.9" cy="231.5" r="3.6"/><circle cx="705.8" cy="224.2" r="3.6"/><circle cx="393.0" cy="312.4" r="3.6"/><circle cx="393.9" cy="312.1" r="3.6"/><circle cx="394.7" cy="311.9" r="3.6"/><circle cx="395.6" cy="311.6" r="3.6"/><circle cx="396.5" cy="311.4" r="3.6"/><circle cx="397.3" cy="311.1" r="3.6"/><circle cx="398.2" cy="310.9" r="3.6"/><circle cx="399.1" cy="310.7" r="3.6"/><circle cx="399.9" cy="310.4" r="3.6"/><circle cx="400.8" cy="310.2" r="3.6"/><circle cx="401.7" cy="309.9" r="3.6"/><circle cx="402.5" cy="309.7" r="3.6"/><circle cx="403.4" cy="309.4" r="3.6"/><circle cx="404.3" cy="309.2" r="3.6"/><circle cx="405.1" cy="308.9" r="3.6"/><circle cx="406.0" cy="308.7" r="3.6"/><circle cx="406.9" cy="308.5" r="3.6"/><circle cx="407.7" cy="308.2" r="3.6"/><circle cx="408.6" cy="308.0" r="3.6"/><circle cx="409.5" cy="307.7" r="3.6"/><circle cx="410.3" cy="307.5" r="3.6"/><circle cx="411.2" cy="307.2" r="3.6"/><circle cx="412.1" cy="307.0" r="3.6"/><circle cx="412.9" cy="306.8" r="3.6"/><circle cx="413.8" cy="306.5" r="3.6"/><circle cx="414.7" cy="306.3" r="3.6"/><circle cx="415.5" cy="306.0" r="3.6"/><circle cx="416.4" cy="305.8" r="3.6"/><circle cx="417.3" cy="305.5" r="3.6"/><circle cx="418.1" cy="305.3" r="3.6"/><circle cx="419.0" cy="305.0" r="3.6"/><circle cx="419.9" cy="304.8" r="3.6"/><circle cx="420.7" cy="304.6" r="3.6"/><circle cx="421.6" cy="304.3" r="3.6"/><circle cx="422.5" cy="304.1" r="3.6"/><circle cx="423.3" cy="303.8" r="3.6"/><circle cx="424.2" cy="303.6" r="3.6"/><circle cx="425.1" cy="303.3" r="3.6"/><circle cx="425.9" cy="303.1" r="3.6"/><circle cx="426.8" cy="302.8" r="3.6"/><circle cx="427.6" cy="302.6" r="3.6"/><circle cx="428.5" cy="302.4" r="3.6"/><circle cx="429.4" cy="302.1" r="3.6"/><circle cx="430.2" cy="301.9" r="3.6"/><circle cx="431.1" cy="301.6" r="3.6"/><circle cx="432.0" cy="301.4" r="3.6"/><circle cx="432.8" cy="301.1" r="3.6"/><circle cx="433.7" cy="300.9" r="3.6"/><circle cx="434.6" cy="300.6" r="3.6"/><circle cx="435.4" cy="300.4" r="3.6"/><circle cx="436.3" cy="300.2" r="3.6"/><circle cx="437.2" cy="299.9" r="3.6"/><circle cx="438.0" cy="299.7" r="3.6"/><circle cx="438.9" cy="299.4" r="3.6"/><circle cx="439.8" cy="299.2" r="3.6"/><circle cx="440.6" cy="298.9" r="3.6"/><circle cx="441.5" cy="298.7" r="3.6"/><circle cx="442.4" cy="298.5" r="3.6"/><circle cx="443.2" cy="298.2" r="3.6"/><circle cx="444.1" cy="298.0" r="3.6"/><circle cx="445.0" cy="297.7" r="3.6"/><circle cx="445.8" cy="297.5" r="3.6"/><circle cx="446.7" cy="297.2" r="3.6"/><circle cx="447.6" cy="297.0" r="3.6"/><circle cx="448.4" cy="296.7" r="3.6"/><circle cx="449.3" cy="296.5" r="3.6"/><circle cx="450.2" cy="296.3" r="3.6"/><circle cx="451.0" cy="296.0" r="3.6"/><circle cx="451.9" cy="295.8" r="3.6"/><circle cx="452.8" cy="295.5" r="3.6"/><circle cx="453.6" cy="295.3" r="3.6"/><circle cx="454.5" cy="295.0" r="3.6"/><circle cx="455.4" cy="294.8" r="3.6"/><circle cx="456.2" cy="294.5" r="3.6"/><circle cx="457.1" cy="294.3" r="3.6"/><circle cx="458.0" cy="294.1" r="3.6"/><circle cx="458.8" cy="293.8" r="3.6"/><circle cx="459.7" cy="293.6" r="3.6"/><circle cx="460.6" cy="293.3" r="3.6"/><circle cx="461.4" cy="293.1" r="3.6"/><circle cx="462.3" cy="292.8" r="3.6"/><circle cx="463.2" cy="292.6" r="3.6"/><circle cx="464.0" cy="292.3" r="3.6"/><circle cx="464.9" cy="292.1" r="3.6"/><circle cx="465.8" cy="291.9" r="3.6"/><circle cx="466.6" cy="291.6" r="3.6"/><circle cx="467.5" cy="291.4" r="3.6"/><circle cx="468.4" cy="291.1" r="3.6"/><circle cx="469.2" cy="290.9" r="3.6"/><circle cx="470.1" cy="290.6" r="3.6"/><circle cx="471.0" cy="290.4" r="3.6"/><circle cx="471.8" cy="290.1" r="3.6"/><circle cx="472.7" cy="289.9" r="3.6"/><circle cx="473.6" cy="289.7" r="3.6"/><circle cx="474.4" cy="289.4" r="3.6"/><circle cx="475.3" cy="289.2" r="3.6"/><circle cx="476.2" cy="288.9" r="3.6"/><circle cx="477.0" cy="288.7" r="3.6"/><circle cx="477.9" cy="288.4" r="3.6"/><circle cx="478.8" cy="288.2" r="3.6"/><circle cx="479.6" cy="288.0" r="3.6"/><circle cx="480.5" cy="287.7" r="3.6"/><circle cx="481.4" cy="287.5" r="3.6"/><circle cx="482.2" cy="287.2" r="3.6"/><circle cx="483.1" cy="287.0" r="3.6"/><circle cx="484.0" cy="286.7" r="3.6"/><circle cx="484.8" cy="286.5" r="3.6"/><circle cx="485.7" cy="286.2" r="3.6"/><circle cx="486.6" cy="286.0" r="3.6"/><circle cx="487.4" cy="285.8" r="3.6"/><circle cx="488.3" cy="285.5" r="3.6"/><circle cx="489.2" cy="285.3" r="3.6"/><circle cx="490.0" cy="285.0" r="3.6"/><circle cx="490.9" cy="284.8" r="3.6"/><circle cx="491.8" cy="284.5" r="3.6"/><circle cx="492.6" cy="284.3" r="3.6"/><circle cx="493.5" cy="284.0" r="3.6"/><circle cx="494.4" cy="283.8" r="3.6"/><circle cx="495.2" cy="283.6" r="3.6"/><circle cx="496.1" cy="283.3" r="3.6"/><circle cx="496.9" cy="283.1" r="3.6"/><circle cx="497.8" cy="282.8" r="3.6"/><circle cx="498.7" cy="282.6" r="3.6"/><circle cx="499.5" cy="282.3" r="3.6"/><circle cx="500.4" cy="282.1" r="3.6"/><circle cx="501.3" cy="281.8" r="3.6"/><circle cx="502.1" cy="281.6" r="3.6"/><circle cx="503.0" cy="281.4" r="3.6"/><circle cx="503.9" cy="281.1" r="3.6"/><circle cx="504.7" cy="280.9" r="3.6"/><circle cx="505.6" cy="280.6" r="3.6"/><circle cx="506.5" cy="280.4" r="3.6"/><circle cx="507.3" cy="280.1" r="3.6"/><circle cx="508.2" cy="279.9" r="3.6"/><circle cx="509.1" cy="279.6" r="3.6"/><circle cx="509.9" cy="279.4" r="3.6"/><circle cx="510.8" cy="279.2" r="3.6"/><circle cx="511.7" cy="278.9" r="3.6"/><circle cx="512.5" cy="278.7" r="3.6"/><circle cx="513.4" cy="278.4" r="3.6"/><circle cx="514.3" cy="278.2" r="3.6"/><circle cx="515.1" cy="277.9" r="3.6"/><circle cx="516.0" cy="277.7" r="3.6"/><circle cx="516.9" cy="277.5" r="3.6"/><circle cx="517.7" cy="277.2" r="3.6"/><circle cx="518.6" cy="277.0" r="3.6"/><circle cx="519.5" cy="276.7" r="3.6"/><circle cx="520.3" cy="276.5" r="3.6"/><circle cx="521.2" cy="276.2" r="3.6"/><circle cx="522.1" cy="276.0" r="3.6"/><circle cx="522.9" cy="275.7" r="3.6"/><circle cx="523.8" cy="275.5" r="3.6"/><circle cx="524.7" cy="275.3" r="3.6"/><circle cx="525.5" cy="275.0" r="3.6"/><circle cx="526.4" cy="274.8" r="3.6"/><circle cx="527.3" cy="274.5" r="3.6"/><circle cx="528.1" cy="274.3" r="3.6"/><circle cx="529.0" cy="274.0" r="3.6"/><circle cx="529.9" cy="273.8" r="3.6"/><circle cx="530.7" cy="273.5" r="3.6"/><circle cx="531.6" cy="273.3" r="3.6"/><circle cx="532.5" cy="273.1" r="3.6"/><circle cx="533.3" cy="272.8" r="3.6"/><circle cx="534.2" cy="272.6" r="3.6"/><circle cx="535.1" cy="272.3" r="3.6"/><circle cx="535.9" cy="272.1" r="3.6"/><circle cx="536.8" cy="271.8" r="3.6"/><circle cx="537.7" cy="271.6" r="3.6"/><circle cx="538.5" cy="271.3" r="3.6"/><circle cx="539.4" cy="271.1" r="3.6"/><circle cx="540.3" cy="270.9" r="3.6"/><circle cx="541.1" cy="270.6" r="3.6"/><circle cx="542.0" cy="270.4" r="3.6"/><circle cx="542.9" cy="270.1" r="3.6"/><circle cx="543.7" cy="269.9" r="3.6"/><circle cx="544.6" cy="269.6" r="3.6"/><circle cx="545.5" cy="269.4" r="3.6"/><circle cx="546.3" cy="269.2" r="3.6"/><circle cx="547.2" cy="268.9" r="3.6"/><circle cx="548.1" cy="268.7" r="3.6"/><circle cx="548.9" cy="268.4" r="3.6"/><circle cx="549.8" cy="268.2" r="3.6"/><circle cx="550.7" cy="267.9" r="3.6"/><circle cx="551.5" cy="267.7" r="3.6"/><circle cx="552.4" cy="267.4" r="3.6"/><circle cx="553.3" cy="267.2" r="3.6"/><circle cx="554.1" cy="267.0" r="3.6"/><circle cx="555.0" cy="266.7" r="3.6"/><circle cx="555.9" cy="266.5" r="3.6"/><circle cx="556.7" cy="266.2" r="3.6"/><circle cx="557.6" cy="266.0" r="3.6"/><circle cx="558.5" cy="265.7" r="3.6"/><circle cx="559.3" cy="265.5" r="3.6"/><circle cx="560.2" cy="265.2" r="3.6"/><circle cx="561.1" cy="265.0" r="3.6"/><circle cx="561.9" cy="264.8" r="3.6"/><circle cx="562.8" cy="264.5" r="3.6"/><circle cx="563.7" cy="264.3" r="3.6"/><circle cx="564.5" cy="264.0" r="3.6"/><circle cx="565.4" cy="263.8" r="3.6"/><circle cx="566.2" cy="263.5" r="3.6"/><circle cx="567.1" cy="263.3" r="3.6"/><circle cx="567.2" cy="263.3" r="3.6"/><circle cx="572.2" cy="261.9" r="3.6"/><circle cx="573.1" cy="261.6" r="3.6"/><circle cx="573.9" cy="261.4" r="3.6"/><circle cx="574.8" cy="261.1" r="3.6"/><circle cx="575.7" cy="260.9" r="3.6"/><circle cx="576.1" cy="260.8" r="3.6"/><circle cx="577.6" cy="260.3" r="3.6"/><circle cx="578.5" cy="260.1" r="3.6"/><circle cx="579.3" cy="259.8" r="3.6"/><circle cx="580.2" cy="259.6" r="3.6"/><circle cx="581.1" cy="259.4" r="3.6"/><circle cx="581.9" cy="259.1" r="3.6"/><circle cx="582.8" cy="258.9" r="3.6"/><circle cx="583.7" cy="258.6" r="3.6"/><circle cx="584.5" cy="258.4" r="3.6"/><circle cx="585.4" cy="258.1" r="3.6"/><circle cx="585.4" cy="258.1" r="3.6"/></g>
</g>
<text class="t" transform="translate(563.9,502.3) scale(1,1.06)" text-anchor="middle">Stress = 0.34</text>
<rect class="ax" x="153.8" y="99.8" width="573.3" height="458.2"/>
<path class="ax" d="M171.0 558.0v20.5M269.2 558.0v20.5M367.4 558.0v20.5M465.7 558.0v20.5M563.9 558.0v20.5M662.1 558.0v20.5"/>
<text class="t" transform="translate(171.0,628.0) scale(1,1.06)" text-anchor="middle">0.6</text>
<text class="t" transform="translate(269.2,628.0) scale(1,1.06)" text-anchor="middle">0.7</text>
<text class="t" transform="translate(367.4,628.0) scale(1,1.06)" text-anchor="middle">0.8</text>
<text class="t" transform="translate(465.7,628.0) scale(1,1.06)" text-anchor="middle">0.9</text>
<text class="t" transform="translate(563.9,628.0) scale(1,1.06)" text-anchor="middle">1.0</text>
<text class="t" transform="translate(662.1,628.0) scale(1,1.06)" text-anchor="middle">1.1</text>
<text class="t" transform="translate(440.5,704.3) scale(1,1.04)" text-anchor="middle">Dissimilarities</text>
<path class="ax" d="M153.8 541.2h-20.5M153.8 414.7h-20.5M153.8 288.1h-20.5M153.8 161.6h-20.5"/>
<text class="t" transform="translate(107.6,541.2) rotate(-90) scale(1,1.06)" text-anchor="middle">0.0</text>
<text class="t" transform="translate(107.6,414.7) rotate(-90) scale(1,1.06)" text-anchor="middle">0.5</text>
<text class="t" transform="translate(107.6,288.1) rotate(-90) scale(1,1.06)" text-anchor="middle">1.0</text>
<text class="t" transform="translate(107.6,161.6) rotate(-90) scale(1,1.06)" text-anchor="middle">1.5</text>
<text class="t" transform="translate(30.0,328.9) rotate(-90) scale(1,1.04)" text-anchor="middle">Configuration Distances</text>
</g>
<g transform="translate(0.0,736.2)">
<clipPath id="c2"><rect x="153.8" y="99.8" width="573.3" height="458.2"/></clipPath>
<text class="h" transform="translate(440.5,35.0) scale(1,1.02)" text-anchor="middle">Interval</text>
<g clip-path="url(#c2)">
<g class="g"><circle cx="572.2" cy="189.2" r="3.6"/><circle cx="561.2" cy="192.6" r="3.6"/><circle cx="549.1" cy="197.0" r="3.6"/><circle cx="566.9" cy="200.3" r="3.6"/><circle cx="538.4" cy="205.3" r="3.6"/><circle cx="557.0" cy="218.1" r="3.6"/><circle cx="561.7" cy="219.2" r="3.6"/><circle cx="574.8" cy="217.7" r="3.6"/><circle cx="546.4" cy="221.0" r="3.6"/><circle cx="538.6" cy="222.9" r="3.6"/><circle cx="525.3" cy="228.5" r="3.6"/><circle cx="562.5" cy="235.0" r="3.6"/><circle cx="575.3" cy="235.3" r="3.6"/><circle cx="519.1" cy="236.3" r="3.6"/><circle cx="510.5" cy="238.9" r="3.6"/><circle cx="536.4" cy="238.1" r="3.6"/><circle cx="533.3" cy="240.7" r="3.6"/><circle cx="533.8" cy="243.3" r="3.6"/><circle cx="558.1" cy="242.7" r="3.6"/><circle cx="561.7" cy="244.6" r="3.6"/><circle cx="542.0" cy="247.9" r="3.6"/><circle cx="596.5" cy="122.4" r="3.6"/><circle cx="705.7" cy="116.9" r="3.6"/><circle cx="679.9" cy="143.5" r="3.6"/><circle cx="634.4" cy="150.6" r="3.6"/><circle cx="589.5" cy="163.0" r="3.6"/><circle cx="633.7" cy="176.2" r="3.6"/><circle cx="579.8" cy="189.0" r="3.6"/><circle cx="582.3" cy="194.5" r="3.6"/><circle cx="595.3" cy="204.3" r="3.6"/><circle cx="584.9" cy="259.6" r="3.6"/><circle cx="602.8" cy="257.0" r="3.6"/><circle cx="545.8" cy="269.3" r="3.6"/><circle cx="554.2" cy="268.2" r="3.6"/><circle cx="571.9" cy="271.9" r="3.6"/><circle cx="564.3" cy="276.9" r="3.6"/><circle cx="578.8" cy="276.6" r="3.6"/><circle cx="581.4" cy="278.6" r="3.6"/><circle cx="563.9" cy="285.0" r="3.6"/><circle cx="548.4" cy="291.5" r="3.6"/><circle cx="549.7" cy="295.4" r="3.6"/><circle cx="552.9" cy="298.0" r="3.6"/><circle cx="547.8" cy="303.1" r="3.6"/><circle cx="554.9" cy="305.1" r="3.6"/><circle cx="554.5" cy="308.3" r="3.6"/><circle cx="557.5" cy="320.9" r="3.6"/><circle cx="561.1" cy="378.5" r="3.6"/><circle cx="558.1" cy="380.7" r="3.6"/><circle cx="521.0" cy="252.1" r="3.6"/><circle cx="523.5" cy="256.6" r="3.6"/><circle cx="521.6" cy="263.7" r="3.6"/><circle cx="531.3" cy="258.5" r="3.6"/><circle cx="533.2" cy="263.7" r="3.6"/><circle cx="539.7" cy="257.9" r="3.6"/><circle cx="541.0" cy="270.2" r="3.6"/><circle cx="532.6" cy="275.4" r="3.6"/><circle cx="535.8" cy="278.6" r="3.6"/><circle cx="533.9" cy="283.8" r="3.6"/><circle cx="508.4" cy="281.4" r="3.6"/><circle cx="515.1" cy="293.5" r="3.6"/><circle cx="527.4" cy="292.2" r="3.6"/><circle cx="513.2" cy="300.6" r="3.6"/><circle cx="518.4" cy="299.3" r="3.6"/><circle cx="524.2" cy="295.4" r="3.6"/><circle cx="536.5" cy="306.6" r="3.6"/><circle cx="494.8" cy="301.2" r="3.6"/><circle cx="497.0" cy="304.4" r="3.6"/><circle cx="499.0" cy="310.9" r="3.6"/><circle cx="502.2" cy="314.8" r="3.6"/><circle cx="488.6" cy="313.5" r="3.6"/><circle cx="476.7" cy="310.5" r="3.6"/><circle cx="451.5" cy="314.0" r="3.6"/><circle cx="529.4" cy="317.4" r="3.6"/><circle cx="533.2" cy="314.1" r="3.6"/><circle cx="535.2" cy="318.7" r="3.6"/><circle cx="541.6" cy="316.1" r="3.6"/><circle cx="530.7" cy="320.6" r="3.6"/><circle cx="470.5" cy="322.2" r="3.6"/><circle cx="482.8" cy="323.2" r="3.6"/><circle cx="488.6" cy="327.1" r="3.6"/><circle cx="524.2" cy="327.1" r="3.6"/><circle cx="529.4" cy="328.4" r="3.6"/><circle cx="521.6" cy="332.9" r="3.6"/><circle cx="538.4" cy="331.8" r="3.6"/><circle cx="531.9" cy="336.1" r="3.6"/><circle cx="528.1" cy="335.5" r="3.6"/><circle cx="521.6" cy="338.7" r="3.6"/><circle cx="516.4" cy="342.6" r="3.6"/><circle cx="408.2" cy="330.0" r="3.6"/><circle cx="429.4" cy="335.7" r="3.6"/><circle cx="439.8" cy="333.3" r="3.6"/><circle cx="466.7" cy="334.2" r="3.6"/><circle cx="461.5" cy="338.7" r="3.6"/><circle cx="464.1" cy="340.6" r="3.6"/><circle cx="467.3" cy="339.3" r="3.6"/><circle cx="478.3" cy="335.5" r="3.6"/><circle cx="475.1" cy="340.0" r="3.6"/><circle cx="473.1" cy="345.8" r="3.6"/><circle cx="486.7" cy="335.5" r="3.6"/><circle cx="506.1" cy="335.5" r="3.6"/><circle cx="502.2" cy="339.3" r="3.6"/><circle cx="495.1" cy="342.6" r="3.6"/><circle cx="501.6" cy="346.5" r="3.6"/><circle cx="507.4" cy="349.7" r="3.6"/><circle cx="504.8" cy="352.3" r="3.6"/><circle cx="502.9" cy="354.9" r="3.6"/><circle cx="517.7" cy="348.4" r="3.6"/><circle cx="517.1" cy="352.9" r="3.6"/><circle cx="495.1" cy="351.0" r="3.6"/><circle cx="491.9" cy="356.8" r="3.6"/><circle cx="490.6" cy="360.0" r="3.6"/><circle cx="484.1" cy="349.7" r="3.6"/><circle cx="480.2" cy="358.1" r="3.6"/><circle cx="475.7" cy="360.0" r="3.6"/><circle cx="451.1" cy="354.2" r="3.6"/><circle cx="463.8" cy="354.6" r="3.6"/><circle cx="458.3" cy="358.7" r="3.6"/><circle cx="409.8" cy="354.6" r="3.6"/><circle cx="406.2" cy="362.9" r="3.6"/><circle cx="539.1" cy="358.5" r="3.6"/><circle cx="534.1" cy="366.8" r="3.6"/><circle cx="515.1" cy="362.6" r="3.6"/><circle cx="486.4" cy="366.1" r="3.6"/><circle cx="507.4" cy="368.8" r="3.6"/><circle cx="502.9" cy="371.0" r="3.6"/><circle cx="499.0" cy="371.7" r="3.6"/><circle cx="469.9" cy="367.1" r="3.6"/><circle cx="466.0" cy="371.7" r="3.6"/><circle cx="464.7" cy="375.5" r="3.6"/><circle cx="464.1" cy="380.1" r="3.6"/><circle cx="477.0" cy="374.3" r="3.6"/><circle cx="480.2" cy="376.8" r="3.6"/><circle cx="478.9" cy="380.7" r="3.6"/><circle cx="485.4" cy="380.7" r="3.6"/><circle cx="492.5" cy="382.4" r="3.6"/><circle cx="442.4" cy="372.3" r="3.6"/><circle cx="434.7" cy="380.5" r="3.6"/><circle cx="433.7" cy="384.6" r="3.6"/><circle cx="455.7" cy="385.0" r="3.6"/><circle cx="468.0" cy="386.9" r="3.6"/><circle cx="414.0" cy="388.2" r="3.6"/><circle cx="477.0" cy="392.4" r="3.6"/><circle cx="480.9" cy="394.3" r="3.6"/><circle cx="488.4" cy="394.0" r="3.6"/><circle cx="425.3" cy="407.6" r="3.6"/><circle cx="433.7" cy="405.0" r="3.6"/><circle cx="433.9" cy="411.7" r="3.6"/><circle cx="449.9" cy="403.7" r="3.6"/><circle cx="462.1" cy="405.0" r="3.6"/><circle cx="508.0" cy="406.3" r="3.6"/><circle cx="508.9" cy="410.8" r="3.6"/><circle cx="492.5" cy="409.5" r="3.6"/><circle cx="482.8" cy="412.3" r="3.6"/><circle cx="456.3" cy="410.8" r="3.6"/><circle cx="449.2" cy="414.3" r="3.6"/><circle cx="463.4" cy="416.6" r="3.6"/><circle cx="466.7" cy="418.3" r="3.6"/><circle cx="483.9" cy="419.2" r="3.6"/><circle cx="389.7" cy="415.6" r="3.6"/><circle cx="400.1" cy="416.0" r="3.6"/><circle cx="414.9" cy="419.8" r="3.6"/><circle cx="431.8" cy="419.2" r="3.6"/><circle cx="436.9" cy="421.1" r="3.6"/><circle cx="447.3" cy="423.7" r="3.6"/><circle cx="457.6" cy="421.8" r="3.6"/><circle cx="475.7" cy="422.4" r="3.6"/><circle cx="473.1" cy="425.7" r="3.6"/><circle cx="507.4" cy="420.5" r="3.6"/><circle cx="514.9" cy="422.8" r="3.6"/><circle cx="500.9" cy="425.7" r="3.6"/><circle cx="500.9" cy="428.9" r="3.6"/><circle cx="487.7" cy="427.3" r="3.6"/><circle cx="393.6" cy="425.0" r="3.6"/><circle cx="438.9" cy="427.6" r="3.6"/><circle cx="411.7" cy="431.5" r="3.6"/><circle cx="418.4" cy="434.4" r="3.6"/><circle cx="383.0" cy="433.7" r="3.6"/><circle cx="449.2" cy="432.8" r="3.6"/><circle cx="444.0" cy="437.0" r="3.6"/><circle cx="450.5" cy="436.0" r="3.6"/><circle cx="451.1" cy="440.5" r="3.6"/><circle cx="460.6" cy="431.5" r="3.6"/><circle cx="460.8" cy="436.6" r="3.6"/><circle cx="460.2" cy="442.2" r="3.6"/><circle cx="477.6" cy="439.0" r="3.6"/><circle cx="484.8" cy="439.0" r="3.6"/><circle cx="493.2" cy="436.6" r="3.6"/><circle cx="534.1" cy="440.0" r="3.6"/><circle cx="377.5" cy="440.3" r="3.6"/><circle cx="396.8" cy="437.3" r="3.6"/><circle cx="399.4" cy="436.6" r="3.6"/><circle cx="398.5" cy="442.2" r="3.6"/><circle cx="407.8" cy="450.0" r="3.6"/><circle cx="439.5" cy="450.0" r="3.6"/><circle cx="480.9" cy="457.3" r="3.6"/><circle cx="506.7" cy="455.7" r="3.6"/><circle cx="430.5" cy="456.3" r="3.6"/><circle cx="425.9" cy="458.0" r="3.6"/><circle cx="421.8" cy="460.6" r="3.6"/><circle cx="402.7" cy="460.6" r="3.6"/><circle cx="402.0" cy="466.0" r="3.6"/><circle cx="445.3" cy="467.4" r="3.6"/><circle cx="425.5" cy="470.9" r="3.6"/><circle cx="383.9" cy="470.3" r="3.6"/><circle cx="377.5" cy="476.3" r="3.6"/><circle cx="371.9" cy="477.4" r="3.6"/><circle cx="404.9" cy="482.7" r="3.6"/><circle cx="446.4" cy="480.6" r="3.6"/><circle cx="418.4" cy="486.7" r="3.6"/><circle cx="382.2" cy="488.1" r="3.6"/><circle cx="500.0" cy="489.9" r="3.6"/><circle cx="384.3" cy="499.0" r="3.6"/><circle cx="420.8" cy="498.1" r="3.6"/><circle cx="401.0" cy="502.8" r="3.6"/><circle cx="364.1" cy="517.1" r="3.6"/><circle cx="174.6" cy="535.5" r="3.6"/><circle cx="217.3" cy="527.1" r="3.6"/><circle cx="220.5" cy="521.6" r="3.6"/><circle cx="222.7" cy="535.8" r="3.6"/><circle cx="239.3" cy="523.5" r="3.6"/><circle cx="246.4" cy="474.3" r="3.6"/><circle cx="254.0" cy="514.5" r="3.6"/><circle cx="257.2" cy="529.3" r="3.6"/><circle cx="265.4" cy="540.5" r="3.6"/><circle cx="272.2" cy="506.5" r="3.6"/><circle cx="275.3" cy="500.6" r="3.6"/><circle cx="277.0" cy="512.9" r="3.6"/><circle cx="287.3" cy="511.0" r="3.6"/><circle cx="289.9" cy="507.1" r="3.6"/><circle cx="291.6" cy="512.9" r="3.6"/><circle cx="295.1" cy="520.0" r="3.6"/><circle cx="300.7" cy="506.1" r="3.6"/><circle cx="314.1" cy="477.2" r="3.6"/><circle cx="322.2" cy="504.5" r="3.6"/><circle cx="325.5" cy="516.4" r="3.6"/><circle cx="334.5" cy="482.3" r="3.6"/><circle cx="338.8" cy="503.0" r="3.6"/><circle cx="340.7" cy="513.8" r="3.6"/><circle cx="340.1" cy="434.7" r="3.6"/><circle cx="347.8" cy="500.9" r="3.6"/><circle cx="354.8" cy="501.5" r="3.6"/><circle cx="353.9" cy="444.4" r="3.6"/><circle cx="355.9" cy="419.5" r="3.6"/><circle cx="355.2" cy="463.1" r="3.6"/><circle cx="557.6" cy="248.4" r="3.6"/><circle cx="527.6" cy="248.9" r="3.6"/><circle cx="542.6" cy="298.0" r="3.6"/><circle cx="500.9" cy="398.2" r="3.6"/><circle cx="460.8" cy="398.2" r="3.6"/><circle cx="450.5" cy="398.2" r="3.6"/><circle cx="441.4" cy="399.9" r="3.6"/><circle cx="466.7" cy="399.9" r="3.6"/><circle cx="414.9" cy="398.6" r="3.6"/><circle cx="405.2" cy="399.9" r="3.6"/><circle cx="360.0" cy="437.3" r="3.6"/><circle cx="360.0" cy="481.9" r="3.6"/><circle cx="361.9" cy="498.1" r="3.6"/><circle cx="492.3" cy="309.6" r="3.6"/><circle cx="540.3" cy="302.1" r="3.6"/><circle cx="544.6" cy="292.9" r="3.6"/><circle cx="543.2" cy="320.5" r="3.6"/><circle cx="537.8" cy="314.7" r="3.6"/><circle cx="503.4" cy="341.4" r="3.6"/><circle cx="463.6" cy="336.5" r="3.6"/><circle cx="524.4" cy="261.3" r="3.6"/><circle cx="489.4" cy="310.3" r="3.6"/><circle cx="493.6" cy="309.9" r="3.6"/></g>
<path class="ln" d="M188.5 630.9L202.5 617.4M648.1 184.2L666.1 166.7"/>
<g class="k"><circle cx="174.7" cy="644.4" r="3.6"/><circle cx="216.3" cy="603.9" r="3.6"/><circle cx="218.9" cy="601.4" r="3.6"/><circle cx="222.8" cy="597.6" r="3.6"/><circle cx="239.2" cy="581.7" r="3.6"/><circle cx="246.7" cy="574.4" r="3.6"/><circle cx="253.8" cy="567.5" r="3.6"/><circle cx="257.0" cy="564.4" r="3.6"/><circle cx="265.4" cy="556.2" r="3.6"/><circle cx="271.9" cy="549.9" r="3.6"/><circle cx="274.5" cy="547.4" r="3.6"/><circle cx="277.1" cy="544.8" r="3.6"/><circle cx="286.8" cy="535.4" r="3.6"/><circle cx="289.4" cy="532.9" r="3.6"/><circle cx="292.6" cy="529.8" r="3.6"/><circle cx="295.8" cy="526.6" r="3.6"/><circle cx="300.7" cy="521.9" r="3.6"/><circle cx="314.2" cy="508.8" r="3.6"/><circle cx="321.7" cy="501.5" r="3.6"/><circle cx="325.6" cy="497.7" r="3.6"/><circle cx="334.6" cy="488.9" r="3.6"/><circle cx="337.2" cy="486.4" r="3.6"/><circle cx="340.4" cy="483.3" r="3.6"/><circle cx="343.7" cy="480.1" r="3.6"/><circle cx="348.2" cy="475.7" r="3.6"/><circle cx="353.5" cy="470.6" r="3.6"/><circle cx="356.5" cy="467.6" r="3.6"/><circle cx="359.0" cy="465.2" r="3.6"/><circle cx="361.5" cy="462.8" r="3.6"/><circle cx="364.5" cy="459.9" r="3.6"/><circle cx="371.6" cy="453.0" r="3.6"/><circle cx="377.3" cy="447.4" r="3.6"/><circle cx="382.3" cy="442.6" r="3.6"/><circle cx="384.4" cy="440.5" r="3.6"/><circle cx="389.7" cy="435.4" r="3.6"/><circle cx="589.4" cy="241.3" r="3.6"/><circle cx="594.6" cy="236.2" r="3.6"/><circle cx="596.8" cy="234.1" r="3.6"/><circle cx="602.7" cy="228.3" r="3.6"/><circle cx="612.0" cy="219.3" r="3.6"/><circle cx="630.2" cy="201.6" r="3.6"/><circle cx="634.3" cy="197.6" r="3.6"/><circle cx="679.9" cy="153.3" r="3.6"/><circle cx="705.8" cy="128.1" r="3.6"/><circle cx="393.0" cy="432.2" r="3.6"/><circle cx="393.6" cy="431.5" r="3.6"/><circle cx="394.3" cy="430.9" r="3.6"/><circle cx="394.9" cy="430.3" r="3.6"/><circle cx="395.6" cy="429.7" r="3.6"/><circle cx="396.2" cy="429.0" r="3.6"/><circle cx="396.9" cy="428.4" r="3.6"/><circle cx="397.5" cy="427.8" r="3.6"/><circle cx="398.2" cy="427.1" r="3.6"/><circle cx="398.8" cy="426.5" r="3.6"/><circle cx="399.5" cy="425.9" r="3.6"/><circle cx="400.1" cy="425.3" r="3.6"/><circle cx="400.7" cy="424.6" r="3.6"/><circle cx="401.4" cy="424.0" r="3.6"/><circle cx="402.0" cy="423.4" r="3.6"/><circle cx="402.7" cy="422.8" r="3.6"/><circle cx="403.3" cy="422.1" r="3.6"/><circle cx="404.0" cy="421.5" r="3.6"/><circle cx="404.6" cy="420.9" r="3.6"/><circle cx="405.3" cy="420.2" r="3.6"/><circle cx="405.9" cy="419.6" r="3.6"/><circle cx="406.6" cy="419.0" r="3.6"/><circle cx="407.2" cy="418.4" r="3.6"/><circle cx="407.8" cy="417.7" r="3.6"/><circle cx="408.5" cy="417.1" r="3.6"/><circle cx="409.1" cy="416.5" r="3.6"/><circle cx="409.8" cy="415.9" r="3.6"/><circle cx="410.4" cy="415.2" r="3.6"/><circle cx="411.1" cy="414.6" r="3.6"/><circle cx="411.7" cy="414.0" r="3.6"/><circle cx="412.4" cy="413.3" r="3.6"/><circle cx="413.0" cy="412.7" r="3.6"/><circle cx="413.7" cy="412.1" r="3.6"/><circle cx="414.3" cy="411.5" r="3.6"/><circle cx="414.9" cy="410.8" r="3.6"/><circle cx="415.6" cy="410.2" r="3.6"/><circle cx="416.2" cy="409.6" r="3.6"/><circle cx="416.9" cy="409.0" r="3.6"/><circle cx="417.5" cy="408.3" r="3.6"/><circle cx="418.2" cy="407.7" r="3.6"/><circle cx="418.8" cy="407.1" r="3.6"/><circle cx="419.5" cy="406.4" r="3.6"/><circle cx="420.1" cy="405.8" r="3.6"/><circle cx="420.7" cy="405.2" r="3.6"/><circle cx="421.4" cy="404.6" r="3.6"/><circle cx="422.0" cy="403.9" r="3.6"/><circle cx="422.7" cy="403.3" r="3.6"/><circle cx="423.3" cy="402.7" r="3.6"/><circle cx="424.0" cy="402.1" r="3.6"/><circle cx="424.6" cy="401.4" r="3.6"/><circle cx="425.3" cy="400.8" r="3.6"/><circle cx="425.9" cy="400.2" r="3.6"/><circle cx="426.6" cy="399.5" r="3.6"/><circle cx="427.2" cy="398.9" r="3.6"/><circle cx="427.8" cy="398.3" r="3.6"/><circle cx="428.5" cy="397.7" r="3.6"/><circle cx="429.1" cy="397.0" r="3.6"/><circle cx="429.8" cy="396.4" r="3.6"/><circle cx="430.4" cy="395.8" r="3.6"/><circle cx="431.1" cy="395.2" r="3.6"/><circle cx="431.7" cy="394.5" r="3.6"/><circle cx="432.4" cy="393.9" r="3.6"/><circle cx="433.0" cy="393.3" r="3.6"/><circle cx="433.7" cy="392.6" r="3.6"/><circle cx="434.3" cy="392.0" r="3.6"/><circle cx="434.9" cy="391.4" r="3.6"/><circle cx="435.6" cy="390.8" r="3.6"/><circle cx="436.2" cy="390.1" r="3.6"/><circle cx="436.9" cy="389.5" r="3.6"/><circle cx="437.5" cy="388.9" r="3.6"/><circle cx="438.2" cy="388.3" r="3.6"/><circle cx="438.8" cy="387.6" r="3.6"/><circle cx="439.5" cy="387.0" r="3.6"/><circle cx="440.1" cy="386.4" r="3.6"/><circle cx="440.8" cy="385.7" r="3.6"/><circle cx="441.4" cy="385.1" r="3.6"/><circle cx="442.0" cy="384.5" r="3.6"/><circle cx="442.7" cy="383.9" r="3.6"/><circle cx="443.3" cy="383.2" r="3.6"/><circle cx="444.0" cy="382.6" r="3.6"/><circle cx="444.6" cy="382.0" r="3.6"/><circle cx="445.3" cy="381.4" r="3.6"/><circle cx="445.9" cy="380.7" r="3.6"/><circle cx="446.6" cy="380.1" r="3.6"/><circle cx="447.2" cy="379.5" r="3.6"/><circle cx="447.9" cy="378.8" r="3.6"/><circle cx="448.5" cy="378.2" r="3.6"/><circle cx="449.1" cy="377.6" r="3.6"/><circle cx="449.8" cy="377.0" r="3.6"/><circle cx="450.4" cy="376.3" r="3.6"/><circle cx="451.1" cy="375.7" r="3.6"/><circle cx="451.7" cy="375.1" r="3.6"/><circle cx="452.4" cy="374.5" r="3.6"/><circle cx="453.0" cy="373.8" r="3.6"/><circle cx="453.7" cy="373.2" r="3.6"/><circle cx="454.3" cy="372.6" r="3.6"/><circle cx="455.0" cy="371.9" r="3.6"/><circle cx="455.6" cy="371.3" r="3.6"/><circle cx="456.2" cy="370.7" r="3.6"/><circle cx="456.9" cy="370.1" r="3.6"/><circle cx="457.5" cy="369.4" r="3.6"/><circle cx="458.2" cy="368.8" r="3.6"/><circle cx="458.8" cy="368.2" r="3.6"/><circle cx="459.5" cy="367.6" r="3.6"/><circle cx="460.1" cy="366.9" r="3.6"/><circle cx="460.8" cy="366.3" r="3.6"/><circle cx="461.4" cy="365.7" r="3.6"/><circle cx="462.1" cy="365.0" r="3.6"/><circle cx="462.7" cy="364.4" r="3.6"/><circle cx="463.3" cy="363.8" r="3.6"/><circle cx="464.0" cy="363.2" r="3.6"/><circle cx="464.6" cy="362.5" r="3.6"/><circle cx="465.3" cy="361.9" r="3.6"/><circle cx="465.9" cy="361.3" r="3.6"/><circle cx="466.6" cy="360.7" r="3.6"/><circle cx="467.2" cy="360.0" r="3.6"/><circle cx="467.9" cy="359.4" r="3.6"/><circle cx="468.5" cy="358.8" r="3.6"/><circle cx="469.2" cy="358.1" r="3.6"/><circle cx="469.8" cy="357.5" r="3.6"/><circle cx="470.4" cy="356.9" r="3.6"/><circle cx="471.1" cy="356.3" r="3.6"/><circle cx="471.7" cy="355.6" r="3.6"/><circle cx="472.4" cy="355.0" r="3.6"/><circle cx="473.0" cy="354.4" r="3.6"/><circle cx="473.7" cy="353.7" r="3.6"/><circle cx="474.3" cy="353.1" r="3.6"/><circle cx="475.0" cy="352.5" r="3.6"/><circle cx="475.6" cy="351.9" r="3.6"/><circle cx="476.2" cy="351.2" r="3.6"/><circle cx="476.9" cy="350.6" r="3.6"/><circle cx="477.5" cy="350.0" r="3.6"/><circle cx="478.2" cy="349.4" r="3.6"/><circle cx="478.8" cy="348.7" r="3.6"/><circle cx="479.5" cy="348.1" r="3.6"/><circle cx="480.1" cy="347.5" r="3.6"/><circle cx="480.8" cy="346.8" r="3.6"/><circle cx="481.4" cy="346.2" r="3.6"/><circle cx="482.1" cy="345.6" r="3.6"/><circle cx="482.7" cy="345.0" r="3.6"/><circle cx="483.3" cy="344.3" r="3.6"/><circle cx="484.0" cy="343.7" r="3.6"/><circle cx="484.6" cy="343.1" r="3.6"/><circle cx="485.3" cy="342.5" r="3.6"/><circle cx="485.9" cy="341.8" r="3.6"/><circle cx="486.6" cy="341.2" r="3.6"/><circle cx="487.2" cy="340.6" r="3.6"/><circle cx="487.9" cy="339.9" r="3.6"/><circle cx="488.5" cy="339.3" r="3.6"/><circle cx="489.2" cy="338.7" r="3.6"/><circle cx="489.8" cy="338.1" r="3.6"/><circle cx="490.4" cy="337.4" r="3.6"/><circle cx="491.1" cy="336.8" r="3.6"/><circle cx="491.7" cy="336.2" r="3.6"/><circle cx="492.4" cy="335.6" r="3.6"/><circle cx="493.0" cy="334.9" r="3.6"/><circle cx="493.7" cy="334.3" r="3.6"/><circle cx="494.3" cy="333.7" r="3.6"/><circle cx="495.0" cy="333.0" r="3.6"/><circle cx="495.6" cy="332.4" r="3.6"/><circle cx="496.3" cy="331.8" r="3.6"/><circle cx="496.9" cy="331.2" r="3.6"/><circle cx="497.5" cy="330.5" r="3.6"/><circle cx="498.2" cy="329.9" r="3.6"/><circle cx="498.8" cy="329.3" r="3.6"/><circle cx="499.5" cy="328.7" r="3.6"/><circle cx="500.1" cy="328.0" r="3.6"/><circle cx="500.8" cy="327.4" r="3.6"/><circle cx="501.4" cy="326.8" r="3.6"/><circle cx="502.1" cy="326.1" r="3.6"/><circle cx="502.7" cy="325.5" r="3.6"/><circle cx="503.4" cy="324.9" r="3.6"/><circle cx="504.0" cy="324.3" r="3.6"/><circle cx="504.6" cy="323.6" r="3.6"/><circle cx="505.3" cy="323.0" r="3.6"/><circle cx="505.9" cy="322.4" r="3.6"/><circle cx="506.6" cy="321.8" r="3.6"/><circle cx="507.2" cy="321.1" r="3.6"/><circle cx="507.9" cy="320.5" r="3.6"/><circle cx="508.5" cy="319.9" r="3.6"/><circle cx="509.2" cy="319.2" r="3.6"/><circle cx="509.8" cy="318.6" r="3.6"/><circle cx="510.5" cy="318.0" r="3.6"/><circle cx="511.1" cy="317.4" r="3.6"/><circle cx="511.7" cy="316.7" r="3.6"/><circle cx="512.4" cy="316.1" r="3.6"/><circle cx="513.0" cy="315.5" r="3.6"/><circle cx="513.7" cy="314.9" r="3.6"/><circle cx="514.3" cy="314.2" r="3.6"/><circle cx="515.0" cy="313.6" r="3.6"/><circle cx="515.6" cy="313.0" r="3.6"/><circle cx="516.3" cy="312.3" r="3.6"/><circle cx="516.9" cy="311.7" r="3.6"/><circle cx="517.6" cy="311.1" r="3.6"/><circle cx="518.2" cy="310.5" r="3.6"/><circle cx="518.8" cy="309.8" r="3.6"/><circle cx="519.5" cy="309.2" r="3.6"/><circle cx="520.1" cy="308.6" r="3.6"/><circle cx="520.8" cy="308.0" r="3.6"/><circle cx="521.4" cy="307.3" r="3.6"/><circle cx="522.1" cy="306.7" r="3.6"/><circle cx="522.7" cy="306.1" r="3.6"/><circle cx="523.4" cy="305.4" r="3.6"/><circle cx="524.0" cy="304.8" r="3.6"/><circle cx="524.7" cy="304.2" r="3.6"/><circle cx="525.3" cy="303.6" r="3.6"/><circle cx="525.9" cy="302.9" r="3.6"/><circle cx="526.6" cy="302.3" r="3.6"/><circle cx="527.2" cy="301.7" r="3.6"/><circle cx="527.9" cy="301.1" r="3.6"/><circle cx="528.5" cy="300.4" r="3.6"/><circle cx="529.2" cy="299.8" r="3.6"/><circle cx="529.8" cy="299.2" r="3.6"/><circle cx="530.5" cy="298.5" r="3.6"/><circle cx="531.1" cy="297.9" r="3.6"/><circle cx="531.7" cy="297.3" r="3.6"/><circle cx="532.4" cy="296.7" r="3.6"/><circle cx="533.0" cy="296.0" r="3.6"/><circle cx="533.7" cy="295.4" r="3.6"/><circle cx="534.3" cy="294.8" r="3.6"/><circle cx="535.0" cy="294.2" r="3.6"/><circle cx="535.6" cy="293.5" r="3.6"/><circle cx="536.3" cy="292.9" r="3.6"/><circle cx="536.9" cy="292.3" r="3.6"/><circle cx="537.6" cy="291.6" r="3.6"/><circle cx="538.2" cy="291.0" r="3.6"/><circle cx="538.8" cy="290.4" r="3.6"/><circle cx="539.5" cy="289.8" r="3.6"/><circle cx="540.1" cy="289.1" r="3.6"/><circle cx="540.8" cy="288.5" r="3.6"/><circle cx="541.4" cy="287.9" r="3.6"/><circle cx="542.1" cy="287.3" r="3.6"/><circle cx="542.7" cy="286.6" r="3.6"/><circle cx="543.4" cy="286.0" r="3.6"/><circle cx="544.0" cy="285.4" r="3.6"/><circle cx="544.7" cy="284.7" r="3.6"/><circle cx="545.3" cy="284.1" r="3.6"/><circle cx="545.9" cy="283.5" r="3.6"/><circle cx="546.6" cy="282.9" r="3.6"/><circle cx="547.2" cy="282.2" r="3.6"/><circle cx="547.9" cy="281.6" r="3.6"/><circle cx="548.5" cy="281.0" r="3.6"/><circle cx="549.2" cy="280.4" r="3.6"/><circle cx="549.8" cy="279.7" r="3.6"/><circle cx="550.5" cy="279.1" r="3.6"/><circle cx="551.1" cy="278.5" r="3.6"/><circle cx="551.8" cy="277.8" r="3.6"/><circle cx="552.4" cy="277.2" r="3.6"/><circle cx="553.0" cy="276.6" r="3.6"/><circle cx="553.7" cy="276.0" r="3.6"/><circle cx="554.3" cy="275.3" r="3.6"/><circle cx="555.0" cy="274.7" r="3.6"/><circle cx="555.6" cy="274.1" r="3.6"/><circle cx="556.3" cy="273.5" r="3.6"/><circle cx="556.9" cy="272.8" r="3.6"/><circle cx="557.6" cy="272.2" r="3.6"/><circle cx="558.2" cy="271.6" r="3.6"/><circle cx="558.9" cy="270.9" r="3.6"/><circle cx="559.5" cy="270.3" r="3.6"/><circle cx="560.1" cy="269.7" r="3.6"/><circle cx="560.8" cy="269.1" r="3.6"/><circle cx="561.4" cy="268.4" r="3.6"/><circle cx="562.1" cy="267.8" r="3.6"/><circle cx="562.7" cy="267.2" r="3.6"/><circle cx="563.4" cy="266.6" r="3.6"/><circle cx="564.0" cy="265.9" r="3.6"/><circle cx="564.7" cy="265.3" r="3.6"/><circle cx="565.3" cy="264.7" r="3.6"/><circle cx="566.0" cy="264.0" r="3.6"/><circle cx="566.6" cy="263.4" r="3.6"/><circle cx="567.2" cy="262.8" r="3.6"/><circle cx="572.2" cy="258.0" r="3.6"/><circle cx="572.8" cy="257.3" r="3.6"/><circle cx="573.5" cy="256.7" r="3.6"/><circle cx="574.1" cy="256.1" r="3.6"/><circle cx="574.8" cy="255.5" r="3.6"/><circle cx="575.4" cy="254.8" r="3.6"/><circle cx="576.1" cy="254.2" r="3.6"/><circle cx="576.1" cy="254.2" r="3.6"/><circle cx="577.6" cy="252.7" r="3.6"/><circle cx="578.2" cy="252.1" r="3.6"/><circle cx="578.9" cy="251.5" r="3.6"/><circle cx="579.5" cy="250.8" r="3.6"/><circle cx="580.2" cy="250.2" r="3.6"/><circle cx="580.8" cy="249.6" r="3.6"/><circle cx="581.5" cy="249.0" r="3.6"/><circle cx="582.1" cy="248.3" r="3.6"/><circle cx="582.8" cy="247.7" r="3.6"/><circle cx="583.4" cy="247.1" r="3.6"/><circle cx="584.1" cy="246.4" r="3.6"/><circle cx="584.7" cy="245.8" r="3.6"/><circle cx="585.3" cy="245.2" r="3.6"/><circle cx="585.4" cy="245.1" r="3.6"/></g>
</g>
<text class="t" transform="translate(563.9,511.7) scale(1,1.06)" text-anchor="middle">Stress = 0.22</text>
<rect class="ax" x="153.8" y="99.8" width="573.3" height="458.2"/>
<path class="ax" d="M171.0 558.0v20.5M269.2 558.0v20.5M367.4 558.0v20.5M465.7 558.0v20.5M563.9 558.0v20.5M662.1 558.0v20.5"/>
<text class="t" transform="translate(171.0,628.0) scale(1,1.06)" text-anchor="middle">0.6</text>
<text class="t" transform="translate(269.2,628.0) scale(1,1.06)" text-anchor="middle">0.7</text>
<text class="t" transform="translate(367.4,628.0) scale(1,1.06)" text-anchor="middle">0.8</text>
<text class="t" transform="translate(465.7,628.0) scale(1,1.06)" text-anchor="middle">0.9</text>
<text class="t" transform="translate(563.9,628.0) scale(1,1.06)" text-anchor="middle">1.0</text>
<text class="t" transform="translate(662.1,628.0) scale(1,1.06)" text-anchor="middle">1.1</text>
<text class="t" transform="translate(440.5,704.3) scale(1,1.04)" text-anchor="middle">Dissimilarities</text>
<path class="ax" d="M153.8 541.0h-20.5M153.8 438.5h-20.5M153.8 336.0h-20.5M153.8 233.5h-20.5M153.8 131.0h-20.5"/>
<text class="t" transform="translate(107.6,541.0) rotate(-90) scale(1,1.06)" text-anchor="middle">0.0</text>
<text class="t" transform="translate(107.6,438.5) rotate(-90) scale(1,1.06)" text-anchor="middle">0.5</text>
<text class="t" transform="translate(107.6,336.0) rotate(-90) scale(1,1.06)" text-anchor="middle">1.0</text>
<text class="t" transform="translate(107.6,233.5) rotate(-90) scale(1,1.06)" text-anchor="middle">1.5</text>
<text class="t" transform="translate(107.6,131.0) rotate(-90) scale(1,1.06)" text-anchor="middle">2.0</text>
<text class="t" transform="translate(30.0,328.9) rotate(-90) scale(1,1.04)" text-anchor="middle">Configuration Distances</text>
</g>
<g transform="translate(812.5,736.2)">
<clipPath id="c3"><rect x="153.8" y="99.8" width="573.3" height="458.2"/></clipPath>
<text class="h" transform="translate(440.5,35.0) scale(1,1.02)" text-anchor="middle">Spline</text>
<g clip-path="url(#c3)">
<g class="g"><circle cx="596.6" cy="117.1" r="3.6"/><circle cx="705.8" cy="130.5" r="3.6"/><circle cx="679.9" cy="153.3" r="3.6"/><circle cx="589.4" cy="165.4" r="3.6"/><circle cx="634.3" cy="181.8" r="3.6"/><circle cx="579.7" cy="189.3" r="3.6"/><circle cx="630.2" cy="199.9" r="3.6"/><circle cx="633.7" cy="202.3" r="3.6"/><circle cx="561.3" cy="200.3" r="3.6"/><circle cx="572.4" cy="201.9" r="3.6"/><circle cx="557.1" cy="210.3" r="3.6"/><circle cx="566.8" cy="211.3" r="3.6"/><circle cx="579.7" cy="210.0" r="3.6"/><circle cx="582.3" cy="208.7" r="3.6"/><circle cx="595.3" cy="212.0" r="3.6"/><circle cx="549.1" cy="214.6" r="3.6"/><circle cx="546.4" cy="226.5" r="3.6"/><circle cx="538.4" cy="227.9" r="3.6"/><circle cx="561.6" cy="227.5" r="3.6"/><circle cx="565.3" cy="228.8" r="3.6"/><circle cx="612.1" cy="228.4" r="3.6"/><circle cx="558.0" cy="233.7" r="3.6"/><circle cx="576.5" cy="233.3" r="3.6"/><circle cx="539.9" cy="235.6" r="3.6"/><circle cx="548.7" cy="237.2" r="3.6"/><circle cx="574.8" cy="254.4" r="3.6"/><circle cx="564.5" cy="259.2" r="3.6"/><circle cx="562.3" cy="263.5" r="3.6"/><circle cx="578.7" cy="263.1" r="3.6"/><circle cx="541.6" cy="269.5" r="3.6"/><circle cx="564.9" cy="276.0" r="3.6"/><circle cx="562.3" cy="278.3" r="3.6"/><circle cx="572.3" cy="276.6" r="3.6"/><circle cx="554.8" cy="282.9" r="3.6"/><circle cx="564.0" cy="287.6" r="3.6"/><circle cx="602.9" cy="285.0" r="3.6"/><circle cx="552.0" cy="289.6" r="3.6"/><circle cx="548.1" cy="293.5" r="3.6"/><circle cx="544.2" cy="296.7" r="3.6"/><circle cx="557.8" cy="294.1" r="3.6"/><circle cx="561.0" cy="298.0" r="3.6"/><circle cx="541.6" cy="303.8" r="3.6"/><circle cx="557.8" cy="303.1" r="3.6"/><circle cx="554.5" cy="305.7" r="3.6"/><circle cx="541.6" cy="313.5" r="3.6"/><circle cx="538.4" cy="321.0" r="3.6"/><circle cx="550.0" cy="320.2" r="3.6"/><circle cx="557.9" cy="324.9" r="3.6"/><circle cx="584.9" cy="320.0" r="3.6"/><circle cx="538.4" cy="330.0" r="3.6"/><circle cx="541.0" cy="341.0" r="3.6"/><circle cx="520.1" cy="258.2" r="3.6"/><circle cx="510.4" cy="270.8" r="3.6"/><circle cx="519.1" cy="274.1" r="3.6"/><circle cx="532.4" cy="274.1" r="3.6"/><circle cx="536.3" cy="272.1" r="3.6"/><circle cx="521.4" cy="288.9" r="3.6"/><circle cx="527.2" cy="285.7" r="3.6"/><circle cx="532.4" cy="285.7" r="3.6"/><circle cx="524.0" cy="292.8" r="3.6"/><circle cx="527.2" cy="296.7" r="3.6"/><circle cx="515.6" cy="300.3" r="3.6"/><circle cx="521.4" cy="303.8" r="3.6"/><circle cx="524.0" cy="300.6" r="3.6"/><circle cx="508.5" cy="306.0" r="3.6"/><circle cx="533.7" cy="310.9" r="3.6"/><circle cx="513.0" cy="313.5" r="3.6"/><circle cx="516.2" cy="317.4" r="3.6"/><circle cx="504.6" cy="320.0" r="3.6"/><circle cx="532.4" cy="318.0" r="3.6"/><circle cx="523.3" cy="323.8" r="3.6"/><circle cx="476.5" cy="323.2" r="3.6"/><circle cx="488.4" cy="324.5" r="3.6"/><circle cx="494.2" cy="326.4" r="3.6"/><circle cx="502.6" cy="326.4" r="3.6"/><circle cx="500.1" cy="330.3" r="3.6"/><circle cx="503.3" cy="330.9" r="3.6"/><circle cx="501.3" cy="334.8" r="3.6"/><circle cx="496.2" cy="336.8" r="3.6"/><circle cx="494.2" cy="341.9" r="3.6"/><circle cx="499.4" cy="341.3" r="3.6"/><circle cx="502.0" cy="344.5" r="3.6"/><circle cx="529.1" cy="332.2" r="3.6"/><circle cx="530.4" cy="337.4" r="3.6"/><circle cx="517.5" cy="343.2" r="3.6"/><circle cx="528.5" cy="345.8" r="3.6"/><circle cx="531.1" cy="349.7" r="3.6"/><circle cx="534.3" cy="354.2" r="3.6"/><circle cx="532.4" cy="356.8" r="3.6"/><circle cx="515.6" cy="351.0" r="3.6"/><circle cx="516.9" cy="353.6" r="3.6"/><circle cx="522.0" cy="352.3" r="3.6"/><circle cx="524.0" cy="354.2" r="3.6"/><circle cx="408.0" cy="332.2" r="3.6"/><circle cx="451.6" cy="342.3" r="3.6"/><circle cx="429.3" cy="350.3" r="3.6"/><circle cx="439.7" cy="354.6" r="3.6"/><circle cx="470.3" cy="352.5" r="3.6"/><circle cx="478.3" cy="351.6" r="3.6"/><circle cx="495.5" cy="358.1" r="3.6"/><circle cx="484.3" cy="361.1" r="3.6"/><circle cx="488.2" cy="365.5" r="3.6"/><circle cx="505.9" cy="362.6" r="3.6"/><circle cx="507.8" cy="367.1" r="3.6"/><circle cx="502.6" cy="371.0" r="3.6"/><circle cx="466.2" cy="365.2" r="3.6"/><circle cx="465.1" cy="369.7" r="3.6"/><circle cx="475.5" cy="370.1" r="3.6"/><circle cx="518.2" cy="373.9" r="3.6"/><circle cx="527.6" cy="373.0" r="3.6"/><circle cx="415.0" cy="373.3" r="3.6"/><circle cx="482.6" cy="376.2" r="3.6"/><circle cx="474.2" cy="379.4" r="3.6"/><circle cx="505.9" cy="379.0" r="3.6"/><circle cx="459.3" cy="378.1" r="3.6"/><circle cx="460.0" cy="382.0" r="3.6"/><circle cx="463.2" cy="384.6" r="3.6"/><circle cx="465.8" cy="387.8" r="3.6"/><circle cx="466.4" cy="391.7" r="3.6"/><circle cx="464.5" cy="394.9" r="3.6"/><circle cx="492.3" cy="385.9" r="3.6"/><circle cx="502.4" cy="387.8" r="3.6"/><circle cx="501.3" cy="394.9" r="3.6"/><circle cx="487.8" cy="394.9" r="3.6"/><circle cx="475.5" cy="389.8" r="3.6"/><circle cx="406.3" cy="388.7" r="3.6"/><circle cx="434.4" cy="395.2" r="3.6"/><circle cx="441.6" cy="395.6" r="3.6"/><circle cx="455.5" cy="406.3" r="3.6"/><circle cx="480.7" cy="409.5" r="3.6"/><circle cx="483.9" cy="407.6" r="3.6"/><circle cx="499.4" cy="405.6" r="3.6"/><circle cx="534.1" cy="407.8" r="3.6"/><circle cx="398.6" cy="410.1" r="3.6"/><circle cx="423.5" cy="411.7" r="3.6"/><circle cx="433.9" cy="409.5" r="3.6"/><circle cx="442.9" cy="408.8" r="3.6"/><circle cx="465.8" cy="412.1" r="3.6"/><circle cx="461.3" cy="415.3" r="3.6"/><circle cx="508.8" cy="413.6" r="3.6"/><circle cx="515.2" cy="417.3" r="3.6"/><circle cx="434.1" cy="418.3" r="3.6"/><circle cx="414.1" cy="422.0" r="3.6"/><circle cx="418.6" cy="423.1" r="3.6"/><circle cx="456.7" cy="421.5" r="3.6"/><circle cx="464.5" cy="421.8" r="3.6"/><circle cx="463.9" cy="426.9" r="3.6"/><circle cx="449.6" cy="426.3" r="3.6"/><circle cx="476.8" cy="423.3" r="3.6"/><circle cx="481.3" cy="426.7" r="3.6"/><circle cx="425.1" cy="427.6" r="3.6"/><circle cx="405.7" cy="429.8" r="3.6"/><circle cx="400.2" cy="433.7" r="3.6"/><circle cx="411.5" cy="431.5" r="3.6"/><circle cx="435.4" cy="431.5" r="3.6"/><circle cx="355.9" cy="432.4" r="3.6"/><circle cx="492.6" cy="430.6" r="3.6"/><circle cx="501.0" cy="431.1" r="3.6"/><circle cx="507.8" cy="431.5" r="3.6"/><circle cx="466.4" cy="432.8" r="3.6"/><circle cx="460.6" cy="434.7" r="3.6"/><circle cx="460.6" cy="437.9" r="3.6"/><circle cx="431.5" cy="436.6" r="3.6"/><circle cx="429.6" cy="440.5" r="3.6"/><circle cx="437.1" cy="438.3" r="3.6"/><circle cx="444.5" cy="441.8" r="3.6"/><circle cx="431.5" cy="445.7" r="3.6"/><circle cx="377.6" cy="439.4" r="3.6"/><circle cx="389.8" cy="443.4" r="3.6"/><circle cx="383.1" cy="447.6" r="3.6"/><circle cx="359.1" cy="447.9" r="3.6"/><circle cx="353.6" cy="449.3" r="3.6"/><circle cx="399.9" cy="450.9" r="3.6"/><circle cx="414.5" cy="452.4" r="3.6"/><circle cx="493.2" cy="448.7" r="3.6"/><circle cx="475.5" cy="449.6" r="3.6"/><circle cx="477.4" cy="456.0" r="3.6"/><circle cx="484.5" cy="454.7" r="3.6"/><circle cx="482.6" cy="459.9" r="3.6"/><circle cx="438.6" cy="452.2" r="3.6"/><circle cx="443.8" cy="454.1" r="3.6"/><circle cx="447.0" cy="449.6" r="3.6"/><circle cx="450.9" cy="449.6" r="3.6"/><circle cx="447.7" cy="456.7" r="3.6"/><circle cx="450.9" cy="457.3" r="3.6"/><circle cx="457.8" cy="460.8" r="3.6"/><circle cx="394.3" cy="458.9" r="3.6"/><circle cx="383.7" cy="460.3" r="3.6"/><circle cx="403.1" cy="458.6" r="3.6"/><circle cx="408.0" cy="460.8" r="3.6"/><circle cx="401.8" cy="466.0" r="3.6"/><circle cx="421.8" cy="462.8" r="3.6"/><circle cx="426.0" cy="465.1" r="3.6"/><circle cx="425.7" cy="470.6" r="3.6"/><circle cx="418.3" cy="474.4" r="3.6"/><circle cx="449.0" cy="468.3" r="3.6"/><circle cx="473.6" cy="468.1" r="3.6"/><circle cx="501.0" cy="460.6" r="3.6"/><circle cx="500.1" cy="467.7" r="3.6"/><circle cx="355.9" cy="474.8" r="3.6"/><circle cx="371.8" cy="475.4" r="3.6"/><circle cx="377.5" cy="472.5" r="3.6"/><circle cx="446.4" cy="479.1" r="3.6"/><circle cx="487.8" cy="480.0" r="3.6"/><circle cx="506.8" cy="478.7" r="3.6"/><circle cx="361.7" cy="483.8" r="3.6"/><circle cx="358.9" cy="488.1" r="3.6"/><circle cx="382.1" cy="485.1" r="3.6"/><circle cx="384.1" cy="493.1" r="3.6"/><circle cx="354.9" cy="499.3" r="3.6"/><circle cx="405.0" cy="501.0" r="3.6"/><circle cx="420.8" cy="502.3" r="3.6"/><circle cx="363.9" cy="512.9" r="3.6"/><circle cx="400.9" cy="514.6" r="3.6"/><circle cx="174.7" cy="520.9" r="3.6"/><circle cx="217.2" cy="521.3" r="3.6"/><circle cx="220.6" cy="478.4" r="3.6"/><circle cx="239.2" cy="520.7" r="3.6"/><circle cx="246.4" cy="479.1" r="3.6"/><circle cx="254.1" cy="513.6" r="3.6"/><circle cx="257.0" cy="463.0" r="3.6"/><circle cx="265.2" cy="525.9" r="3.6"/><circle cx="272.3" cy="511.6" r="3.6"/><circle cx="276.8" cy="492.2" r="3.6"/><circle cx="287.2" cy="501.7" r="3.6"/><circle cx="291.7" cy="503.2" r="3.6"/><circle cx="289.4" cy="489.0" r="3.6"/><circle cx="290.4" cy="517.4" r="3.6"/><circle cx="295.2" cy="523.0" r="3.6"/><circle cx="300.6" cy="499.0" r="3.6"/><circle cx="314.2" cy="473.4" r="3.6"/><circle cx="322.3" cy="496.1" r="3.6"/><circle cx="325.6" cy="514.3" r="3.6"/><circle cx="334.9" cy="449.7" r="3.6"/><circle cx="338.8" cy="481.9" r="3.6"/><circle cx="339.9" cy="436.9" r="3.6"/><circle cx="340.8" cy="497.4" r="3.6"/><circle cx="342.4" cy="492.6" r="3.6"/><circle cx="347.9" cy="493.9" r="3.6"/><circle cx="523.3" cy="233.2" r="3.6"/><circle cx="525.9" cy="241.7" r="3.6"/><circle cx="547.8" cy="246.9" r="3.6"/><circle cx="536.4" cy="262.8" r="3.6"/><circle cx="409.6" cy="398.8" r="3.6"/><circle cx="450.9" cy="399.9" r="3.6"/><circle cx="482.0" cy="398.2" r="3.6"/><circle cx="492.9" cy="399.9" r="3.6"/><circle cx="538.9" cy="334.8" r="3.6"/><circle cx="478.2" cy="401.8" r="3.6"/><circle cx="485.0" cy="400.8" r="3.6"/></g>
<path class="ln" d="M193.9 512.7L197.1 512.4M651.4 153.8L662.8 147.7"/>
<g class="k"><circle cx="174.7" cy="514.5" r="3.6"/><circle cx="216.3" cy="510.6" r="3.6"/><circle cx="218.9" cy="510.3" r="3.6"/><circle cx="222.8" cy="509.7" r="3.6"/><circle cx="239.2" cy="507.1" r="3.6"/><circle cx="246.7" cy="505.5" r="3.6"/><circle cx="253.8" cy="503.9" r="3.6"/><circle cx="257.0" cy="503.1" r="3.6"/><circle cx="265.4" cy="501.0" r="3.6"/><circle cx="271.9" cy="499.4" r="3.6"/><circle cx="274.5" cy="498.8" r="3.6"/><circle cx="277.1" cy="498.1" r="3.6"/><circle cx="286.8" cy="495.5" r="3.6"/><circle cx="289.4" cy="494.7" r="3.6"/><circle cx="292.6" cy="493.7" r="3.6"/><circle cx="295.8" cy="492.6" r="3.6"/><circle cx="300.7" cy="490.9" r="3.6"/><circle cx="314.2" cy="486.0" r="3.6"/><circle cx="321.7" cy="483.1" r="3.6"/><circle cx="325.6" cy="481.6" r="3.6"/><circle cx="334.6" cy="478.0" r="3.6"/><circle cx="337.2" cy="477.0" r="3.6"/><circle cx="340.4" cy="475.7" r="3.6"/><circle cx="343.7" cy="474.4" r="3.6"/><circle cx="348.2" cy="472.5" r="3.6"/><circle cx="353.5" cy="470.2" r="3.6"/><circle cx="356.5" cy="468.8" r="3.6"/><circle cx="359.0" cy="467.6" r="3.6"/><circle cx="361.5" cy="466.3" r="3.6"/><circle cx="364.5" cy="464.7" r="3.6"/><circle cx="371.6" cy="461.2" r="3.6"/><circle cx="377.3" cy="458.3" r="3.6"/><circle cx="382.3" cy="455.7" r="3.6"/><circle cx="384.4" cy="454.6" r="3.6"/><circle cx="389.7" cy="451.8" r="3.6"/><circle cx="589.4" cy="209.3" r="3.6"/><circle cx="594.6" cy="202.8" r="3.6"/><circle cx="596.8" cy="200.1" r="3.6"/><circle cx="602.7" cy="193.3" r="3.6"/><circle cx="612.0" cy="183.3" r="3.6"/><circle cx="630.2" cy="166.3" r="3.6"/><circle cx="634.3" cy="162.8" r="3.6"/><circle cx="679.9" cy="138.7" r="3.6"/><circle cx="705.8" cy="135.0" r="3.6"/><circle cx="393.0" cy="450.1" r="3.6"/><circle cx="393.8" cy="449.6" r="3.6"/><circle cx="394.6" cy="449.2" r="3.6"/><circle cx="395.4" cy="448.8" r="3.6"/><circle cx="396.2" cy="448.4" r="3.6"/><circle cx="397.0" cy="448.0" r="3.6"/><circle cx="397.8" cy="447.6" r="3.6"/><circle cx="398.6" cy="447.2" r="3.6"/><circle cx="399.4" cy="446.8" r="3.6"/><circle cx="400.2" cy="446.3" r="3.6"/><circle cx="401.0" cy="445.9" r="3.6"/><circle cx="401.8" cy="445.5" r="3.6"/><circle cx="402.6" cy="445.1" r="3.6"/><circle cx="403.4" cy="444.6" r="3.6"/><circle cx="404.2" cy="444.2" r="3.6"/><circle cx="405.0" cy="443.8" r="3.6"/><circle cx="405.8" cy="443.4" r="3.6"/><circle cx="406.5" cy="442.9" r="3.6"/><circle cx="407.3" cy="442.5" r="3.6"/><circle cx="408.1" cy="442.1" r="3.6"/><circle cx="408.9" cy="441.7" r="3.6"/><circle cx="409.7" cy="441.2" r="3.6"/><circle cx="410.5" cy="440.8" r="3.6"/><circle cx="411.3" cy="440.4" r="3.6"/><circle cx="412.1" cy="439.9" r="3.6"/><circle cx="412.9" cy="439.5" r="3.6"/><circle cx="413.7" cy="439.1" r="3.6"/><circle cx="414.4" cy="438.6" r="3.6"/><circle cx="415.2" cy="438.2" r="3.6"/><circle cx="416.0" cy="437.7" r="3.6"/><circle cx="416.8" cy="437.3" r="3.6"/><circle cx="417.6" cy="436.8" r="3.6"/><circle cx="418.3" cy="436.4" r="3.6"/><circle cx="419.1" cy="435.9" r="3.6"/><circle cx="419.9" cy="435.5" r="3.6"/><circle cx="420.7" cy="435.0" r="3.6"/><circle cx="421.4" cy="434.5" r="3.6"/><circle cx="422.2" cy="434.1" r="3.6"/><circle cx="423.0" cy="433.6" r="3.6"/><circle cx="423.8" cy="433.2" r="3.6"/><circle cx="424.5" cy="432.7" r="3.6"/><circle cx="425.3" cy="432.2" r="3.6"/><circle cx="426.1" cy="431.7" r="3.6"/><circle cx="426.8" cy="431.3" r="3.6"/><circle cx="427.6" cy="430.8" r="3.6"/><circle cx="428.4" cy="430.3" r="3.6"/><circle cx="429.1" cy="429.9" r="3.6"/><circle cx="429.9" cy="429.4" r="3.6"/><circle cx="430.7" cy="428.9" r="3.6"/><circle cx="431.4" cy="428.4" r="3.6"/><circle cx="432.2" cy="427.9" r="3.6"/><circle cx="432.9" cy="427.5" r="3.6"/><circle cx="433.7" cy="427.0" r="3.6"/><circle cx="434.5" cy="426.5" r="3.6"/><circle cx="435.2" cy="426.0" r="3.6"/><circle cx="436.0" cy="425.6" r="3.6"/><circle cx="436.8" cy="425.1" r="3.6"/><circle cx="437.5" cy="424.6" r="3.6"/><circle cx="438.3" cy="424.1" r="3.6"/><circle cx="439.0" cy="423.6" r="3.6"/><circle cx="439.8" cy="423.1" r="3.6"/><circle cx="440.5" cy="422.6" r="3.6"/><circle cx="441.3" cy="422.1" r="3.6"/><circle cx="442.0" cy="421.7" r="3.6"/><circle cx="442.8" cy="421.2" r="3.6"/><circle cx="443.5" cy="420.7" r="3.6"/><circle cx="444.3" cy="420.2" r="3.6"/><circle cx="445.0" cy="419.7" r="3.6"/><circle cx="445.8" cy="419.2" r="3.6"/><circle cx="446.5" cy="418.7" r="3.6"/><circle cx="447.3" cy="418.2" r="3.6"/><circle cx="448.0" cy="417.7" r="3.6"/><circle cx="448.8" cy="417.2" r="3.6"/><circle cx="449.5" cy="416.6" r="3.6"/><circle cx="450.3" cy="416.1" r="3.6"/><circle cx="451.0" cy="415.6" r="3.6"/><circle cx="451.8" cy="415.1" r="3.6"/><circle cx="452.5" cy="414.6" r="3.6"/><circle cx="453.2" cy="414.1" r="3.6"/><circle cx="454.0" cy="413.6" r="3.6"/><circle cx="454.7" cy="413.1" r="3.6"/><circle cx="455.4" cy="412.5" r="3.6"/><circle cx="456.2" cy="412.0" r="3.6"/><circle cx="456.9" cy="411.5" r="3.6"/><circle cx="457.6" cy="411.0" r="3.6"/><circle cx="458.4" cy="410.4" r="3.6"/><circle cx="459.1" cy="409.9" r="3.6"/><circle cx="459.8" cy="409.4" r="3.6"/><circle cx="460.5" cy="408.8" r="3.6"/><circle cx="461.2" cy="408.3" r="3.6"/><circle cx="462.0" cy="407.7" r="3.6"/><circle cx="462.7" cy="407.2" r="3.6"/><circle cx="463.4" cy="406.6" r="3.6"/><circle cx="464.1" cy="406.1" r="3.6"/><circle cx="464.8" cy="405.5" r="3.6"/><circle cx="465.5" cy="404.9" r="3.6"/><circle cx="466.2" cy="404.4" r="3.6"/><circle cx="466.9" cy="403.8" r="3.6"/><circle cx="467.6" cy="403.2" r="3.6"/><circle cx="468.3" cy="402.6" r="3.6"/><circle cx="468.9" cy="402.0" r="3.6"/><circle cx="469.6" cy="401.5" r="3.6"/><circle cx="470.3" cy="400.9" r="3.6"/><circle cx="471.0" cy="400.3" r="3.6"/><circle cx="471.7" cy="399.7" r="3.6"/><circle cx="472.3" cy="399.1" r="3.6"/><circle cx="473.0" cy="398.5" r="3.6"/><circle cx="473.7" cy="397.9" r="3.6"/><circle cx="474.3" cy="397.2" r="3.6"/><circle cx="475.0" cy="396.6" r="3.6"/><circle cx="475.6" cy="396.0" r="3.6"/><circle cx="476.2" cy="395.3" r="3.6"/><circle cx="476.9" cy="394.7" r="3.6"/><circle cx="477.5" cy="394.0" r="3.6"/><circle cx="478.1" cy="393.4" r="3.6"/><circle cx="478.7" cy="392.7" r="3.6"/><circle cx="479.3" cy="392.1" r="3.6"/><circle cx="480.0" cy="391.4" r="3.6"/><circle cx="480.6" cy="390.8" r="3.6"/><circle cx="481.2" cy="390.1" r="3.6"/><circle cx="481.8" cy="389.4" r="3.6"/><circle cx="482.4" cy="388.8" r="3.6"/><circle cx="483.0" cy="388.1" r="3.6"/><circle cx="483.6" cy="387.4" r="3.6"/><circle cx="484.2" cy="386.8" r="3.6"/><circle cx="484.8" cy="386.1" r="3.6"/><circle cx="485.4" cy="385.4" r="3.6"/><circle cx="486.0" cy="384.7" r="3.6"/><circle cx="486.6" cy="384.0" r="3.6"/><circle cx="487.1" cy="383.4" r="3.6"/><circle cx="487.7" cy="382.7" r="3.6"/><circle cx="488.3" cy="382.0" r="3.6"/><circle cx="488.8" cy="381.2" r="3.6"/><circle cx="489.4" cy="380.5" r="3.6"/><circle cx="489.9" cy="379.8" r="3.6"/><circle cx="490.4" cy="379.1" r="3.6"/><circle cx="490.9" cy="378.3" r="3.6"/><circle cx="491.5" cy="377.6" r="3.6"/><circle cx="492.0" cy="376.8" r="3.6"/><circle cx="492.4" cy="376.1" r="3.6"/><circle cx="492.9" cy="375.3" r="3.6"/><circle cx="493.4" cy="374.6" r="3.6"/><circle cx="493.9" cy="373.8" r="3.6"/><circle cx="494.4" cy="373.1" r="3.6"/><circle cx="494.9" cy="372.3" r="3.6"/><circle cx="495.4" cy="371.5" r="3.6"/><circle cx="495.8" cy="370.8" r="3.6"/><circle cx="496.3" cy="370.0" r="3.6"/><circle cx="496.8" cy="369.3" r="3.6"/><circle cx="497.3" cy="368.5" r="3.6"/><circle cx="497.8" cy="367.7" r="3.6"/><circle cx="498.2" cy="367.0" r="3.6"/><circle cx="498.7" cy="366.2" r="3.6"/><circle cx="499.2" cy="365.4" r="3.6"/><circle cx="499.7" cy="364.7" r="3.6"/><circle cx="500.1" cy="363.9" r="3.6"/><circle cx="500.6" cy="363.1" r="3.6"/><circle cx="501.1" cy="362.4" r="3.6"/><circle cx="501.5" cy="361.6" r="3.6"/><circle cx="502.0" cy="360.8" r="3.6"/><circle cx="502.5" cy="360.1" r="3.6"/><circle cx="502.9" cy="359.3" r="3.6"/><circle cx="503.4" cy="358.5" r="3.6"/><circle cx="503.8" cy="357.7" r="3.6"/><circle cx="504.3" cy="356.9" r="3.6"/><circle cx="504.7" cy="356.2" r="3.6"/><circle cx="505.2" cy="355.4" r="3.6"/><circle cx="505.6" cy="354.6" r="3.6"/><circle cx="506.0" cy="353.8" r="3.6"/><circle cx="506.5" cy="353.0" r="3.6"/><circle cx="506.9" cy="352.2" r="3.6"/><circle cx="507.3" cy="351.4" r="3.6"/><circle cx="507.7" cy="350.6" r="3.6"/><circle cx="508.1" cy="349.8" r="3.6"/><circle cx="508.6" cy="349.0" r="3.6"/><circle cx="509.0" cy="348.2" r="3.6"/><circle cx="509.4" cy="347.4" r="3.6"/><circle cx="509.8" cy="346.6" r="3.6"/><circle cx="510.2" cy="345.8" r="3.6"/><circle cx="510.6" cy="345.0" r="3.6"/><circle cx="511.0" cy="344.2" r="3.6"/><circle cx="511.4" cy="343.4" r="3.6"/><circle cx="511.8" cy="342.6" r="3.6"/><circle cx="512.2" cy="341.8" r="3.6"/><circle cx="512.6" cy="341.0" r="3.6"/><circle cx="513.0" cy="340.2" r="3.6"/><circle cx="513.4" cy="339.4" r="3.6"/><circle cx="513.7" cy="338.6" r="3.6"/><circle cx="514.1" cy="337.8" r="3.6"/><circle cx="514.5" cy="336.9" r="3.6"/><circle cx="514.9" cy="336.1" r="3.6"/><circle cx="515.3" cy="335.3" r="3.6"/><circle cx="515.7" cy="334.5" r="3.6"/><circle cx="516.1" cy="333.7" r="3.6"/><circle cx="516.5" cy="332.9" r="3.6"/><circle cx="516.9" cy="332.1" r="3.6"/><circle cx="517.3" cy="331.3" r="3.6"/><circle cx="517.7" cy="330.5" r="3.6"/><circle cx="518.0" cy="329.6" r="3.6"/><circle cx="518.4" cy="328.8" r="3.6"/><circle cx="518.8" cy="328.0" r="3.6"/><circle cx="519.2" cy="327.2" r="3.6"/><circle cx="519.6" cy="326.4" r="3.6"/><circle cx="520.0" cy="325.6" r="3.6"/><circle cx="520.4" cy="324.8" r="3.6"/><circle cx="520.8" cy="324.0" r="3.6"/><circle cx="521.1" cy="323.1" r="3.6"/><circle cx="521.5" cy="322.3" r="3.6"/><circle cx="521.9" cy="321.5" r="3.6"/><circle cx="522.3" cy="320.7" r="3.6"/><circle cx="522.7" cy="319.9" r="3.6"/><circle cx="523.1" cy="319.1" r="3.6"/><circle cx="523.5" cy="318.3" r="3.6"/><circle cx="523.8" cy="317.5" r="3.6"/><circle cx="524.2" cy="316.6" r="3.6"/><circle cx="524.6" cy="315.8" r="3.6"/><circle cx="525.0" cy="315.0" r="3.6"/><circle cx="525.4" cy="314.2" r="3.6"/><circle cx="525.8" cy="313.4" r="3.6"/><circle cx="526.1" cy="312.6" r="3.6"/><circle cx="526.5" cy="311.8" r="3.6"/><circle cx="526.9" cy="310.9" r="3.6"/><circle cx="527.3" cy="310.1" r="3.6"/><circle cx="527.7" cy="309.3" r="3.6"/><circle cx="528.1" cy="308.5" r="3.6"/><circle cx="528.5" cy="307.7" r="3.6"/><circle cx="528.9" cy="306.9" r="3.6"/><circle cx="529.3" cy="306.1" r="3.6"/><circle cx="529.7" cy="305.3" r="3.6"/><circle cx="530.1" cy="304.5" r="3.6"/><circle cx="530.5" cy="303.7" r="3.6"/><circle cx="530.9" cy="302.9" r="3.6"/><circle cx="531.3" cy="302.1" r="3.6"/><circle cx="531.7" cy="301.3" r="3.6"/><circle cx="532.2" cy="300.5" r="3.6"/><circle cx="532.6" cy="299.7" r="3.6"/><circle cx="533.0" cy="298.9" r="3.6"/><circle cx="533.4" cy="298.1" r="3.6"/><circle cx="533.8" cy="297.3" r="3.6"/><circle cx="534.3" cy="296.5" r="3.6"/><circle cx="534.7" cy="295.7" r="3.6"/><circle cx="535.1" cy="294.9" r="3.6"/><circle cx="535.5" cy="294.1" r="3.6"/><circle cx="535.9" cy="293.3" r="3.6"/><circle cx="536.4" cy="292.5" r="3.6"/><circle cx="536.8" cy="291.7" r="3.6"/><circle cx="537.2" cy="290.9" r="3.6"/><circle cx="537.6" cy="290.1" r="3.6"/><circle cx="538.0" cy="289.3" r="3.6"/><circle cx="538.4" cy="288.5" r="3.6"/><circle cx="538.8" cy="287.7" r="3.6"/><circle cx="539.2" cy="286.9" r="3.6"/><circle cx="539.7" cy="286.1" r="3.6"/><circle cx="540.1" cy="285.3" r="3.6"/><circle cx="540.5" cy="284.5" r="3.6"/><circle cx="540.9" cy="283.7" r="3.6"/><circle cx="541.3" cy="282.9" r="3.6"/><circle cx="541.7" cy="282.1" r="3.6"/><circle cx="542.1" cy="281.3" r="3.6"/><circle cx="542.6" cy="280.5" r="3.6"/><circle cx="543.0" cy="279.7" r="3.6"/><circle cx="543.4" cy="278.9" r="3.6"/><circle cx="543.8" cy="278.1" r="3.6"/><circle cx="544.3" cy="277.4" r="3.6"/><circle cx="544.7" cy="276.6" r="3.6"/><circle cx="545.2" cy="275.8" r="3.6"/><circle cx="545.6" cy="275.0" r="3.6"/><circle cx="546.1" cy="274.2" r="3.6"/><circle cx="546.5" cy="273.5" r="3.6"/><circle cx="547.0" cy="272.7" r="3.6"/><circle cx="547.4" cy="271.9" r="3.6"/><circle cx="547.9" cy="271.1" r="3.6"/><circle cx="548.4" cy="270.4" r="3.6"/><circle cx="548.8" cy="269.6" r="3.6"/><circle cx="549.3" cy="268.8" r="3.6"/><circle cx="549.8" cy="268.1" r="3.6"/><circle cx="550.2" cy="267.3" r="3.6"/><circle cx="550.7" cy="266.5" r="3.6"/><circle cx="551.1" cy="265.7" r="3.6"/><circle cx="551.6" cy="265.0" r="3.6"/><circle cx="552.1" cy="264.2" r="3.6"/><circle cx="552.5" cy="263.4" r="3.6"/><circle cx="553.0" cy="262.6" r="3.6"/><circle cx="553.4" cy="261.8" r="3.6"/><circle cx="553.9" cy="261.1" r="3.6"/><circle cx="554.3" cy="260.3" r="3.6"/><circle cx="554.8" cy="259.5" r="3.6"/><circle cx="555.2" cy="258.7" r="3.6"/><circle cx="555.7" cy="257.9" r="3.6"/><circle cx="556.1" cy="257.2" r="3.6"/><circle cx="556.6" cy="256.4" r="3.6"/><circle cx="557.0" cy="255.6" r="3.6"/><circle cx="557.5" cy="254.8" r="3.6"/><circle cx="557.9" cy="254.1" r="3.6"/><circle cx="558.4" cy="253.3" r="3.6"/><circle cx="558.9" cy="252.5" r="3.6"/><circle cx="559.3" cy="251.8" r="3.6"/><circle cx="559.8" cy="251.0" r="3.6"/><circle cx="560.3" cy="250.2" r="3.6"/><circle cx="560.8" cy="249.5" r="3.6"/><circle cx="561.2" cy="248.7" r="3.6"/><circle cx="561.7" cy="247.9" r="3.6"/><circle cx="562.2" cy="247.2" r="3.6"/><circle cx="562.7" cy="246.4" r="3.6"/><circle cx="563.2" cy="245.7" r="3.6"/><circle cx="563.7" cy="244.9" r="3.6"/><circle cx="564.1" cy="244.1" r="3.6"/><circle cx="564.6" cy="243.4" r="3.6"/><circle cx="565.1" cy="242.7" r="3.6"/><circle cx="565.7" cy="241.9" r="3.6"/><circle cx="566.2" cy="241.2" r="3.6"/><circle cx="566.7" cy="240.4" r="3.6"/><circle cx="567.2" cy="239.7" r="3.6"/><circle cx="572.2" cy="232.8" r="3.6"/><circle cx="572.7" cy="232.0" r="3.6"/><circle cx="573.3" cy="231.3" r="3.6"/><circle cx="573.8" cy="230.6" r="3.6"/><circle cx="574.3" cy="229.9" r="3.6"/><circle cx="574.8" cy="229.1" r="3.6"/><circle cx="575.4" cy="228.4" r="3.6"/><circle cx="575.9" cy="227.7" r="3.6"/><circle cx="576.1" cy="227.4" r="3.6"/><circle cx="577.6" cy="225.3" r="3.6"/><circle cx="578.1" cy="224.6" r="3.6"/><circle cx="578.6" cy="223.8" r="3.6"/><circle cx="579.2" cy="223.1" r="3.6"/><circle cx="579.7" cy="222.4" r="3.6"/><circle cx="580.2" cy="221.6" r="3.6"/><circle cx="580.7" cy="220.9" r="3.6"/><circle cx="581.2" cy="220.1" r="3.6"/><circle cx="581.7" cy="219.4" r="3.6"/><circle cx="582.3" cy="218.7" r="3.6"/><circle cx="582.8" cy="217.9" r="3.6"/><circle cx="583.3" cy="217.2" r="3.6"/><circle cx="583.9" cy="216.5" r="3.6"/><circle cx="584.4" cy="215.8" r="3.6"/><circle cx="584.9" cy="215.0" r="3.6"/><circle cx="585.4" cy="214.4" r="3.6"/></g>
</g>
<text class="t" transform="translate(563.9,514.4) scale(1,1.06)" text-anchor="middle">Stress = 0.19</text>
<rect class="ax" x="153.8" y="99.8" width="573.3" height="458.2"/>
<path class="ax" d="M171.0 558.0v20.5M269.2 558.0v20.5M367.4 558.0v20.5M465.7 558.0v20.5M563.9 558.0v20.5M662.1 558.0v20.5"/>
<text class="t" transform="translate(171.0,628.0) scale(1,1.06)" text-anchor="middle">0.6</text>
<text class="t" transform="translate(269.2,628.0) scale(1,1.06)" text-anchor="middle">0.7</text>
<text class="t" transform="translate(367.4,628.0) scale(1,1.06)" text-anchor="middle">0.8</text>
<text class="t" transform="translate(465.7,628.0) scale(1,1.06)" text-anchor="middle">0.9</text>
<text class="t" transform="translate(563.9,628.0) scale(1,1.06)" text-anchor="middle">1.0</text>
<text class="t" transform="translate(662.1,628.0) scale(1,1.06)" text-anchor="middle">1.1</text>
<text class="t" transform="translate(440.5,704.3) scale(1,1.04)" text-anchor="middle">Dissimilarities</text>
<path class="ax" d="M153.8 541.3h-20.5M153.8 444.8h-20.5M153.8 348.3h-20.5M153.8 251.8h-20.5M153.8 155.3h-20.5"/>
<text class="t" transform="translate(107.6,541.3) rotate(-90) scale(1,1.06)" text-anchor="middle">0.0</text>
<text class="t" transform="translate(107.6,444.8) rotate(-90) scale(1,1.06)" text-anchor="middle">0.5</text>
<text class="t" transform="translate(107.6,348.3) rotate(-90) scale(1,1.06)" text-anchor="middle">1.0</text>
<text class="t" transform="translate(107.6,251.8) rotate(-90) scale(1,1.06)" text-anchor="middle">1.5</text>
<text class="t" transform="translate(107.6,155.3) rotate(-90) scale(1,1.06)" text-anchor="middle">2.0</text>
<text class="t" transform="translate(30.0,328.9) rotate(-90) scale(1,1.04)" text-anchor="middle">Configuration Distances</text>
</g>
</svg>
</body>
</html>
